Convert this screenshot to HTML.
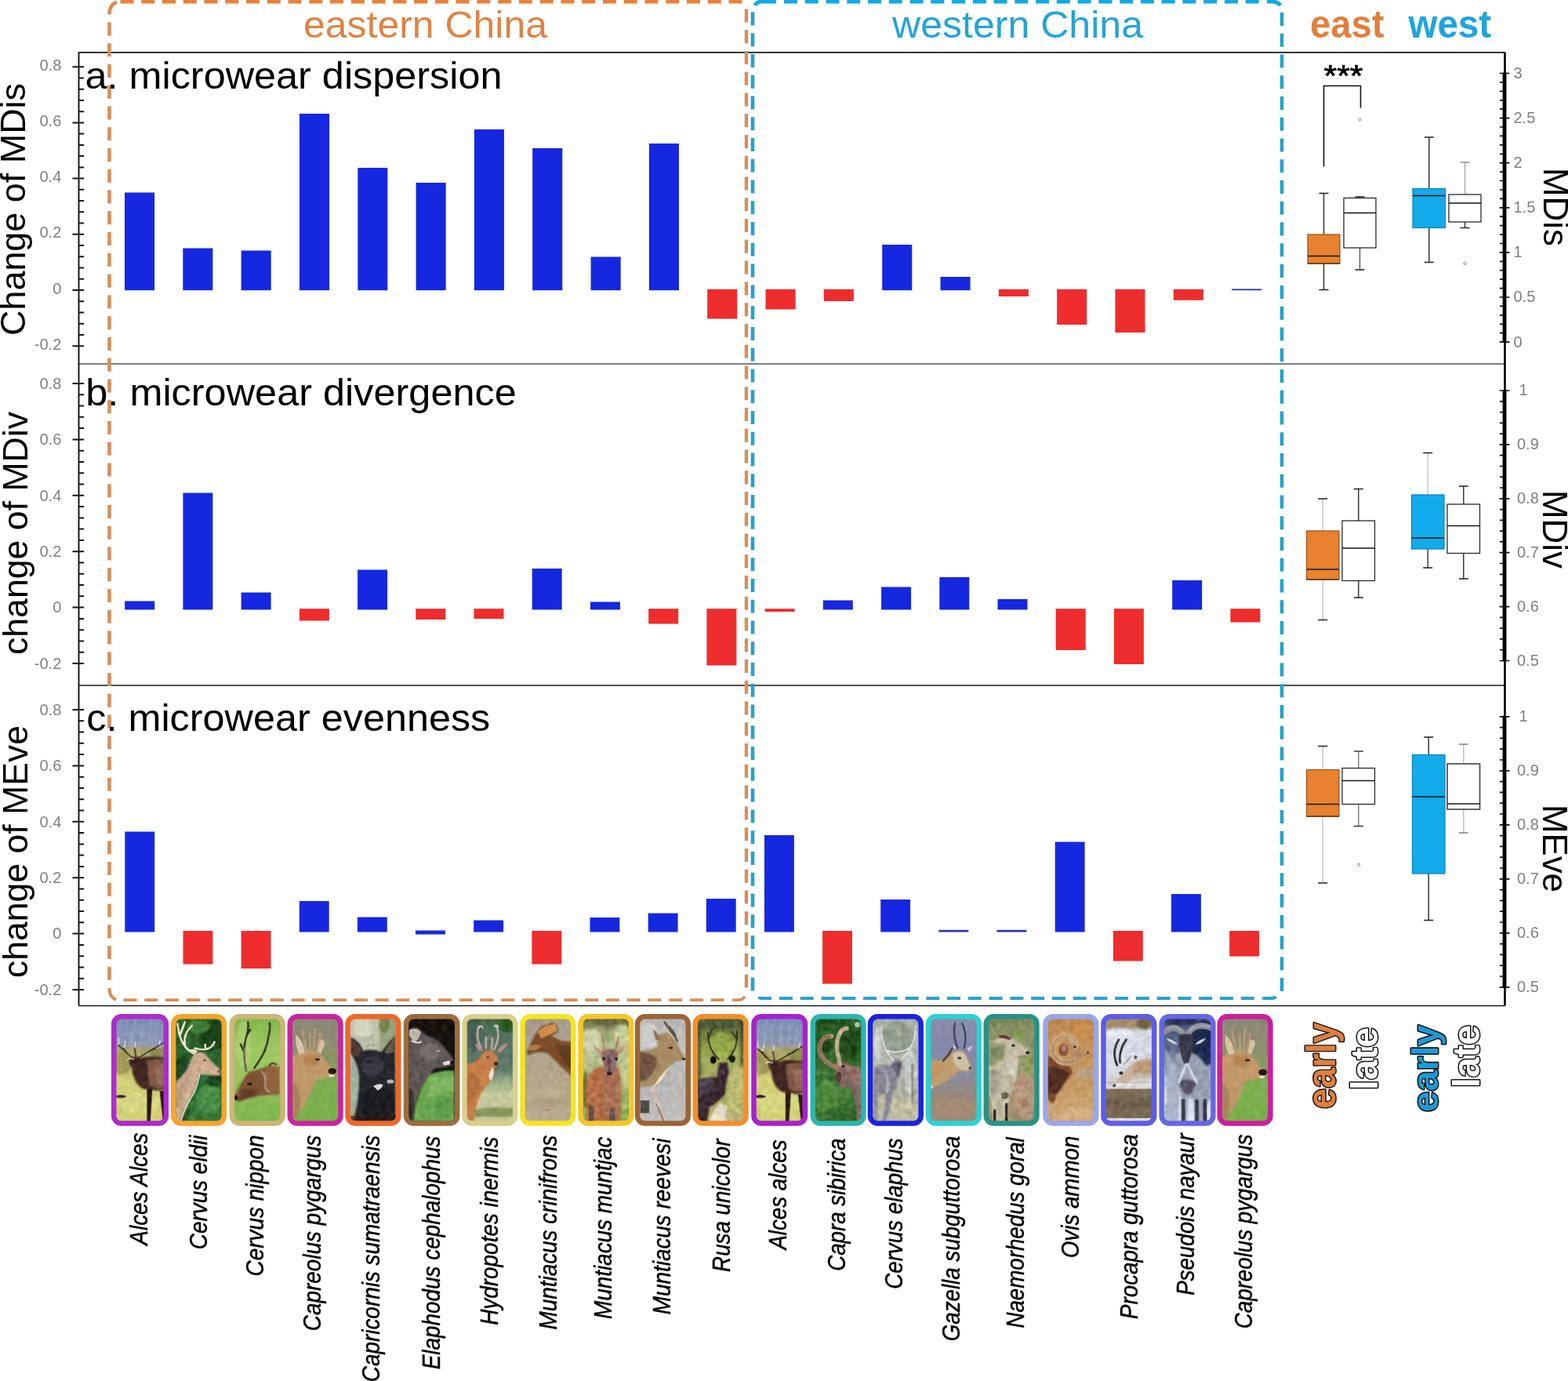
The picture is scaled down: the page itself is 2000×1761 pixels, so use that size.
<!DOCTYPE html>
<html lang="en"><head><meta charset="utf-8"><title>Microwear change in eastern and western China</title>
<style>html,body{margin:0;padding:0;background:#fff}svg{display:block}</style></head>
<body>
<svg width="2000" height="1761" viewBox="0 0 2000 1761" font-family="'Liberation Sans', sans-serif">
<rect width="2000" height="1761" fill="#fff"/>
<rect x="159.0" y="245.5" width="38.1" height="124.7" fill="#1628DF"/>
<rect x="233.3" y="316.5" width="38.1" height="53.7" fill="#1628DF"/>
<rect x="307.6" y="319.5" width="38.1" height="50.7" fill="#1628DF"/>
<rect x="382.0" y="145.0" width="38.1" height="225.2" fill="#1628DF"/>
<rect x="456.3" y="214.0" width="38.1" height="156.2" fill="#1628DF"/>
<rect x="530.6" y="233.0" width="38.1" height="137.2" fill="#1628DF"/>
<rect x="604.9" y="165.0" width="38.1" height="205.2" fill="#1628DF"/>
<rect x="679.2" y="189.0" width="38.1" height="181.2" fill="#1628DF"/>
<rect x="753.6" y="327.5" width="38.1" height="42.7" fill="#1628DF"/>
<rect x="827.9" y="183.0" width="38.1" height="187.2" fill="#1628DF"/>
<rect x="902.2" y="368.8" width="38.1" height="37.7" fill="#EE2D2E"/>
<rect x="976.5" y="368.8" width="38.1" height="25.7" fill="#EE2D2E"/>
<rect x="1050.8" y="368.8" width="38.1" height="15.2" fill="#EE2D2E"/>
<rect x="1125.2" y="312.0" width="38.1" height="58.2" fill="#1628DF"/>
<rect x="1199.5" y="353.0" width="38.1" height="17.2" fill="#1628DF"/>
<rect x="1273.8" y="368.8" width="38.1" height="9.2" fill="#EE2D2E"/>
<rect x="1348.1" y="368.8" width="38.1" height="45.2" fill="#EE2D2E"/>
<rect x="1422.4" y="368.8" width="38.1" height="55.2" fill="#EE2D2E"/>
<rect x="1496.8" y="368.8" width="38.1" height="14.0" fill="#EE2D2E"/>
<rect x="1571.1" y="368.4" width="38.1" height="1.8" fill="#2438B4"/>
<rect x="159.2" y="766.5" width="38.0" height="11.0" fill="#1628DF"/>
<rect x="233.4" y="628.5" width="38.0" height="149.0" fill="#1628DF"/>
<rect x="307.6" y="755.5" width="38.0" height="22.0" fill="#1628DF"/>
<rect x="381.9" y="776.2" width="38.0" height="15.3" fill="#EE2D2E"/>
<rect x="456.1" y="726.5" width="38.0" height="51.0" fill="#1628DF"/>
<rect x="530.3" y="776.2" width="38.0" height="13.8" fill="#EE2D2E"/>
<rect x="604.5" y="776.2" width="38.0" height="12.8" fill="#EE2D2E"/>
<rect x="678.7" y="725.0" width="38.0" height="52.5" fill="#1628DF"/>
<rect x="753.0" y="767.5" width="38.0" height="10.0" fill="#1628DF"/>
<rect x="827.2" y="776.2" width="38.0" height="19.3" fill="#EE2D2E"/>
<rect x="901.4" y="776.2" width="38.0" height="72.3" fill="#EE2D2E"/>
<rect x="975.6" y="776.2" width="38.0" height="3.8" fill="#EE2D2E"/>
<rect x="1049.8" y="765.5" width="38.0" height="12.0" fill="#1628DF"/>
<rect x="1124.1" y="748.5" width="38.0" height="29.0" fill="#1628DF"/>
<rect x="1198.3" y="736.0" width="38.0" height="41.5" fill="#1628DF"/>
<rect x="1272.5" y="764.0" width="38.0" height="13.5" fill="#1628DF"/>
<rect x="1346.7" y="776.2" width="38.0" height="52.8" fill="#EE2D2E"/>
<rect x="1420.9" y="776.2" width="38.0" height="70.8" fill="#EE2D2E"/>
<rect x="1495.2" y="740.0" width="38.0" height="37.5" fill="#1628DF"/>
<rect x="1569.4" y="776.2" width="38.0" height="17.3" fill="#EE2D2E"/>
<rect x="159.3" y="1060.5" width="37.9" height="128.0" fill="#1628DF"/>
<rect x="233.5" y="1187.0" width="37.9" height="42.5" fill="#EE2D2E"/>
<rect x="307.6" y="1187.0" width="37.9" height="48.0" fill="#EE2D2E"/>
<rect x="381.8" y="1149.0" width="37.9" height="39.5" fill="#1628DF"/>
<rect x="455.9" y="1169.5" width="37.9" height="19.0" fill="#1628DF"/>
<rect x="530.0" y="1186.5" width="37.9" height="5.0" fill="#1628DF"/>
<rect x="604.2" y="1173.5" width="37.9" height="15.0" fill="#1628DF"/>
<rect x="678.4" y="1187.0" width="37.9" height="42.5" fill="#EE2D2E"/>
<rect x="752.5" y="1170.0" width="37.9" height="18.5" fill="#1628DF"/>
<rect x="826.7" y="1164.5" width="37.9" height="24.0" fill="#1628DF"/>
<rect x="900.8" y="1146.0" width="37.9" height="42.5" fill="#1628DF"/>
<rect x="975.0" y="1065.0" width="37.9" height="123.5" fill="#1628DF"/>
<rect x="1049.1" y="1187.0" width="37.9" height="67.5" fill="#EE2D2E"/>
<rect x="1123.2" y="1147.0" width="37.9" height="41.5" fill="#1628DF"/>
<rect x="1197.4" y="1185.8" width="37.9" height="2.7" fill="#2438B4"/>
<rect x="1271.5" y="1185.8" width="37.9" height="2.7" fill="#2438B4"/>
<rect x="1345.7" y="1073.5" width="37.9" height="115.0" fill="#1628DF"/>
<rect x="1419.9" y="1187.0" width="37.9" height="38.5" fill="#EE2D2E"/>
<rect x="1494.0" y="1140.0" width="37.9" height="48.5" fill="#1628DF"/>
<rect x="1568.2" y="1187.0" width="37.9" height="32.5" fill="#EE2D2E"/>
<path d="M100.5 66.8H1919.5M100.5 874H1919.5M100.5 1282.5H1919.5" stroke="#1a1a1a" stroke-width="1.7" fill="none"/>
<path d="M100.5 464H1919.5" stroke="#555" stroke-width="1.3" fill="none"/>
<path d="M100.5 66.5V1282.5" stroke="#111" stroke-width="1.9" fill="none"/>
<path d="M1919.5 66.5V1282.5" stroke="#000" stroke-width="2.6" fill="none"/>
<path d="M92.5 85.2H107 M101 99.4H107 M101 113.7H107 M101 127.9H107 M101 142.2H107 M92.5 156.4H107 M101 170.6H107 M101 184.9H107 M101 199.1H107 M101 213.4H107 M92.5 227.6H107 M101 241.8H107 M101 256.1H107 M101 270.3H107 M101 284.6H107 M92.5 298.8H107 M101 313.0H107 M101 327.3H107 M101 341.5H107 M101 355.8H107 M92.5 370.0H107 M101 384.2H107 M101 398.5H107 M101 412.7H107 M101 427.0H107 M92.5 441.2H107" stroke="#151515" stroke-width="2" fill="none"/>
<text x="78.3" y="89.7" font-size="20" fill="#7f7f7f" text-anchor="end" >0.8</text>
<text x="78.3" y="160.9" font-size="20" fill="#7f7f7f" text-anchor="end" >0.6</text>
<text x="78.3" y="232.1" font-size="20" fill="#7f7f7f" text-anchor="end" >0.4</text>
<text x="78.3" y="303.3" font-size="20" fill="#7f7f7f" text-anchor="end" >0.2</text>
<text x="78.3" y="374.5" font-size="20" fill="#7f7f7f" text-anchor="end" >0</text>
<text x="78.3" y="445.7" font-size="20" fill="#7f7f7f" text-anchor="end" >-0.2</text>
<path d="M92.5 489.0H107 M101 503.3H107 M101 517.6H107 M101 531.8H107 M101 546.1H107 M92.5 560.4H107 M101 574.7H107 M101 589.0H107 M101 603.2H107 M101 617.5H107 M92.5 631.8H107 M101 646.1H107 M101 660.4H107 M101 674.6H107 M101 688.9H107 M92.5 703.2H107 M101 717.5H107 M101 731.8H107 M101 746.0H107 M101 760.3H107 M92.5 774.6H107 M101 788.9H107 M101 803.2H107 M101 817.4H107 M101 831.7H107 M92.5 846.0H107" stroke="#151515" stroke-width="2" fill="none"/>
<text x="78.3" y="495.8" font-size="20" fill="#7f7f7f" text-anchor="end" >0.8</text>
<text x="78.3" y="567.2" font-size="20" fill="#7f7f7f" text-anchor="end" >0.6</text>
<text x="78.3" y="638.6" font-size="20" fill="#7f7f7f" text-anchor="end" >0.4</text>
<text x="78.3" y="710.0" font-size="20" fill="#7f7f7f" text-anchor="end" >0.2</text>
<text x="78.3" y="781.4" font-size="20" fill="#7f7f7f" text-anchor="end" >0</text>
<text x="78.3" y="852.8" font-size="20" fill="#7f7f7f" text-anchor="end" >-0.2</text>
<path d="M92.5 905.0H107 M101 919.3H107 M101 933.6H107 M101 947.8H107 M101 962.1H107 M92.5 976.4H107 M101 990.7H107 M101 1005.0H107 M101 1019.2H107 M101 1033.5H107 M92.5 1047.8H107 M101 1062.1H107 M101 1076.4H107 M101 1090.6H107 M101 1104.9H107 M92.5 1119.2H107 M101 1133.5H107 M101 1147.8H107 M101 1162.0H107 M101 1176.3H107 M92.5 1190.6H107 M101 1204.9H107 M101 1219.2H107 M101 1233.4H107 M101 1247.7H107 M92.5 1262.0H107" stroke="#151515" stroke-width="2" fill="none"/>
<text x="78.3" y="911.8" font-size="20" fill="#7f7f7f" text-anchor="end" >0.8</text>
<text x="78.3" y="983.2" font-size="20" fill="#7f7f7f" text-anchor="end" >0.6</text>
<text x="78.3" y="1054.6" font-size="20" fill="#7f7f7f" text-anchor="end" >0.4</text>
<text x="78.3" y="1126.0" font-size="20" fill="#7f7f7f" text-anchor="end" >0.2</text>
<text x="78.3" y="1197.4" font-size="20" fill="#7f7f7f" text-anchor="end" >0</text>
<text x="78.3" y="1268.8" font-size="20" fill="#7f7f7f" text-anchor="end" >-0.2</text>
<path d="M1912.6 93.5H1925.5 M1913 104.9H1918 M1913 116.3H1918 M1913 127.8H1918 M1913 139.2H1918 M1912.6 150.6H1925.5 M1913 162.0H1918 M1913 173.4H1918 M1913 184.9H1918 M1913 196.3H1918 M1912.6 207.7H1925.5 M1913 219.1H1918 M1913 230.5H1918 M1913 242.0H1918 M1913 253.4H1918 M1912.6 264.8H1925.5 M1913 276.2H1918 M1913 287.6H1918 M1913 299.1H1918 M1913 310.5H1918 M1912.6 321.9H1925.5 M1913 333.3H1918 M1913 344.7H1918 M1913 356.2H1918 M1913 367.6H1918 M1912.6 379.0H1925.5 M1913 390.4H1918 M1913 401.8H1918 M1913 413.3H1918 M1913 424.7H1918 M1912.6 436.1H1925.5" stroke="#111" stroke-width="1.7" fill="none"/>
<path d="M1919 92.5V437.1" stroke="#000" stroke-width="4.8" fill="none"/>
<text x="1930.5" y="99.9" font-size="20" fill="#7f7f7f" >3</text>
<text x="1930.5" y="157.0" font-size="20" fill="#7f7f7f" >2.5</text>
<text x="1930.5" y="214.1" font-size="20" fill="#7f7f7f" >2</text>
<text x="1930.5" y="271.2" font-size="20" fill="#7f7f7f" >1.5</text>
<text x="1930.5" y="328.3" font-size="20" fill="#7f7f7f" >1</text>
<text x="1930.5" y="385.4" font-size="20" fill="#7f7f7f" >0.5</text>
<text x="1930.5" y="442.5" font-size="20" fill="#7f7f7f" >0</text>
<path d="M1912.6 498.0H1925.5 M1913 511.8H1918 M1913 525.6H1918 M1913 539.3H1918 M1913 553.1H1918 M1912.6 566.9H1925.5 M1913 580.7H1918 M1913 594.5H1918 M1913 608.2H1918 M1913 622.0H1918 M1912.6 635.8H1925.5 M1913 649.6H1918 M1913 663.4H1918 M1913 677.1H1918 M1913 690.9H1918 M1912.6 704.7H1925.5 M1913 718.5H1918 M1913 732.3H1918 M1913 746.0H1918 M1913 759.8H1918 M1912.6 773.6H1925.5 M1913 787.4H1918 M1913 801.2H1918 M1913 814.9H1918 M1913 828.7H1918 M1912.6 842.5H1925.5" stroke="#111" stroke-width="1.7" fill="none"/>
<path d="M1919 497.0V843.5" stroke="#000" stroke-width="4.8" fill="none"/>
<text x="1937.5" y="504.4" font-size="20" fill="#7f7f7f" >1</text>
<text x="1935" y="573.3" font-size="20" fill="#7f7f7f" >0.9</text>
<text x="1935" y="642.2" font-size="20" fill="#7f7f7f" >0.8</text>
<text x="1935" y="711.1" font-size="20" fill="#7f7f7f" >0.7</text>
<text x="1935" y="780.0" font-size="20" fill="#7f7f7f" >0.6</text>
<text x="1935" y="848.9" font-size="20" fill="#7f7f7f" >0.5</text>
<path d="M1912.6 913.8H1925.5 M1913 927.6H1918 M1913 941.4H1918 M1913 955.2H1918 M1913 969.0H1918 M1912.6 982.8H1925.5 M1913 996.6H1918 M1913 1010.4H1918 M1913 1024.2H1918 M1913 1038.0H1918 M1912.6 1051.8H1925.5 M1913 1065.6H1918 M1913 1079.4H1918 M1913 1093.2H1918 M1913 1107.0H1918 M1912.6 1120.8H1925.5 M1913 1134.6H1918 M1913 1148.4H1918 M1913 1162.2H1918 M1913 1176.0H1918 M1912.6 1189.8H1925.5 M1913 1203.6H1918 M1913 1217.4H1918 M1913 1231.2H1918 M1913 1245.0H1918 M1912.6 1258.8H1925.5" stroke="#111" stroke-width="1.7" fill="none"/>
<path d="M1919 912.8V1259.8" stroke="#000" stroke-width="4.8" fill="none"/>
<text x="1937.5" y="920.2" font-size="20" fill="#7f7f7f" >1</text>
<text x="1935" y="989.2" font-size="20" fill="#7f7f7f" >0.9</text>
<text x="1935" y="1058.2" font-size="20" fill="#7f7f7f" >0.8</text>
<text x="1935" y="1127.2" font-size="20" fill="#7f7f7f" >0.7</text>
<text x="1935" y="1196.2" font-size="20" fill="#7f7f7f" >0.6</text>
<text x="1935" y="1265.2" font-size="20" fill="#7f7f7f" >0.5</text>
<path d="M139.5 18.5 C139.5 10 142 5 149 2.6" stroke="#D68F59" stroke-width="4.6" fill="none"/>
<path d="M153.5 2H948" stroke="#E7823C" stroke-width="5" fill="none" stroke-dasharray="17 9.76" />
<path d="M139.5 28.5V1252.5" stroke="#D68F59" stroke-width="4.6" fill="none" stroke-dasharray="17 9.76" />
<path d="M139.5 1260 C139.5 1268 142 1272 148 1275" stroke="#D68F59" stroke-width="4.2" fill="none"/>
<path d="M157.5 1275.2H934" stroke="#D68F59" stroke-width="3.8" fill="none" stroke-dasharray="17 9.76" />
<path d="M934.5 1275.2H941 C946 1275.2 948 1274 950 1270.5" stroke="#D68F59" stroke-width="3.8" fill="none"/>
<path d="M952 11.5V1261" stroke="#D68F59" stroke-width="4.4" fill="none" stroke-dasharray="17 9.76" />
<path d="M962.5 6.5 C965 3.5 967 2 972 2H990" stroke="#14A9E2" stroke-width="5" fill="none"/>
<path d="M1000 2H1606.5" stroke="#14A9E2" stroke-width="5" fill="none" stroke-dasharray="17 9.76" />
<path d="M1616 2H1622 C1628 2 1631 3.5 1633 7" stroke="#14A9E2" stroke-width="5" fill="none"/>
<path d="M960 15.5V1265" stroke="#27A2CB" stroke-width="4.6" fill="none" stroke-dasharray="17 9.76" />
<path d="M1635 16V1265" stroke="#27A2CB" stroke-width="4.6" fill="none" stroke-dasharray="17 9.76" />
<path d="M967.5 1271.5 C969 1273 970 1273 973 1273H984" stroke="#27A2CB" stroke-width="4" fill="none"/>
<path d="M994 1273H1610" stroke="#27A2CB" stroke-width="4" fill="none" stroke-dasharray="17 9.76" />
<path d="M1610.5 1273H1620 C1624 1273 1626 1272.5 1627.5 1271" stroke="#27A2CB" stroke-width="4" fill="none"/>
<text x="387" y="48.4" font-size="48" fill="#DC8446" textLength="311" lengthAdjust="spacingAndGlyphs" >eastern China</text>
<text x="1138" y="48.4" font-size="48" fill="#24A4D8" textLength="320" lengthAdjust="spacingAndGlyphs" >western China</text>
<text x="1671" y="47.6" font-size="50" fill="#E0803E" font-weight="bold" textLength="94.5" lengthAdjust="spacingAndGlyphs" >east</text>
<text x="1796.5" y="47.6" font-size="50" fill="#1FA4DC" font-weight="bold" textLength="105.5" lengthAdjust="spacingAndGlyphs" >west</text>
<text x="108.5" y="113.4" font-size="48" fill="#000" textLength="532" lengthAdjust="spacingAndGlyphs" >a. microwear dispersion</text>
<text x="109.3" y="517.3" font-size="48" fill="#000" textLength="549.5" lengthAdjust="spacingAndGlyphs" >b. microwear divergence</text>
<text x="110.3" y="931.5" font-size="48" fill="#000" textLength="515" lengthAdjust="spacingAndGlyphs" >c. microwear evenness</text>
<text x="32" y="428" font-size="44" fill="#000" textLength="322" lengthAdjust="spacingAndGlyphs" transform="rotate(-90 32 428)" >Change of MDis</text>
<text x="34.5" y="835" font-size="44" fill="#000" textLength="310" lengthAdjust="spacingAndGlyphs" transform="rotate(-90 34.5 835)" >change of MDiv</text>
<text x="34.5" y="1247" font-size="44" fill="#000" textLength="322" lengthAdjust="spacingAndGlyphs" transform="rotate(-90 34.5 1247)" >change of MEve</text>
<text x="1969" y="214" font-size="44" fill="#000" textLength="100" lengthAdjust="spacingAndGlyphs" transform="rotate(90 1969 214)" >MDis</text>
<text x="1968" y="625" font-size="44" fill="#000" textLength="100" lengthAdjust="spacingAndGlyphs" transform="rotate(90 1968 625)" >MDiv</text>
<text x="1968" y="1026" font-size="44" fill="#000" textLength="112" lengthAdjust="spacingAndGlyphs" transform="rotate(90 1968 1026)" >MEve</text>
<path d="M1688.5 299.0V246.5" stroke="#2a2a2a" stroke-width="1.4" fill="none"/>
<path d="M1688.5 336.0V369.5" stroke="#2a2a2a" stroke-width="1.4" fill="none"/>
<path d="M1682.5 246.5h12" stroke="#2a2a2a" stroke-width="1.5999999999999999" fill="none"/>
<path d="M1682.5 369.5h12" stroke="#2a2a2a" stroke-width="1.5999999999999999" fill="none"/>
<rect x="1668.0" y="299.0" width="41.0" height="37.0" fill="#E8822F" stroke="#9A5A28" stroke-width="1.3"/>
<path d="M1668.0 326.5H1709.0" stroke="#151515" stroke-width="1.4"/>
<path d="M1668 336H1709" stroke="#5a3418" stroke-width="1.6"/>
<path d="M1734.5 252.5V251.0" stroke="#2a2a2a" stroke-width="1.4" fill="none"/>
<path d="M1734.5 316.0V344.0" stroke="#555" stroke-width="1.4" fill="none"/>
<path d="M1728.5 251.0h12" stroke="#2a2a2a" stroke-width="1.5999999999999999" fill="none"/>
<path d="M1728.5 344.0h12" stroke="#2a2a2a" stroke-width="1.5999999999999999" fill="none"/>
<rect x="1714.0" y="252.5" width="41.0" height="63.5" fill="#fff" stroke="#2a2a2a" stroke-width="1.3"/>
<path d="M1714.0 271.5H1755.0" stroke="#151515" stroke-width="1.4"/>
<circle cx="1734.5" cy="152.5" r="1.6" fill="none" stroke="#666" stroke-width="0.8"/>
<path d="M1688.5 212.5V109.5H1735.5V137.5" stroke="#111" stroke-width="1.6" fill="none"/>
<text x="1688.5" y="109.5" font-size="38" fill="#000" textLength="50" lengthAdjust="spacingAndGlyphs" stroke="#000" stroke-width="0.7">***</text>
<path d="M1822.8 240.5V175.0" stroke="#2a2a2a" stroke-width="1.4" fill="none"/>
<path d="M1822.8 290.5V334.5" stroke="#2a2a2a" stroke-width="1.4" fill="none"/>
<path d="M1816.8 175.0h12" stroke="#2a2a2a" stroke-width="1.5999999999999999" fill="none"/>
<path d="M1816.8 334.5h12" stroke="#2a2a2a" stroke-width="1.5999999999999999" fill="none"/>
<rect x="1802.0" y="240.5" width="41.5" height="50.0" fill="#12ABEA" stroke="#1486BC" stroke-width="1.3"/>
<path d="M1802.0 249.5H1843.5" stroke="#151515" stroke-width="1.4"/>
<path d="M1868.5 248.0V207.0" stroke="#aaa" stroke-width="1.4" fill="none"/>
<path d="M1868.5 283.0V290.5" stroke="#333" stroke-width="1.4" fill="none"/>
<path d="M1862.5 207.0h12" stroke="#999" stroke-width="1.5999999999999999" fill="none"/>
<path d="M1862.5 290.5h12" stroke="#333" stroke-width="1.5999999999999999" fill="none"/>
<rect x="1848.0" y="248.0" width="41.0" height="35.0" fill="#fff" stroke="#2a2a2a" stroke-width="1.3"/>
<path d="M1848.0 259.0H1889.0" stroke="#151515" stroke-width="1.4"/>
<circle cx="1868.5" cy="336" r="1.6" fill="none" stroke="#666" stroke-width="0.8"/>
<path d="M1687.2 677.0V636.0" stroke="#c4c4c4" stroke-width="1.4" fill="none"/>
<path d="M1687.2 739.0V790.5" stroke="#c4c4c4" stroke-width="1.4" fill="none"/>
<path d="M1681.2 636.0h12" stroke="#2a2a2a" stroke-width="1.5999999999999999" fill="none"/>
<path d="M1681.2 790.5h12" stroke="#2a2a2a" stroke-width="1.5999999999999999" fill="none"/>
<rect x="1666.5" y="677.0" width="41.5" height="62.0" fill="#E8822F" stroke="#9A5A28" stroke-width="1.3"/>
<path d="M1666.5 726.0H1708.0" stroke="#151515" stroke-width="1.4"/>
<path d="M1666.5 739H1708" stroke="#5a3418" stroke-width="1.6"/>
<path d="M1732.8 664.0V623.5" stroke="#2a2a2a" stroke-width="1.4" fill="none"/>
<path d="M1732.8 740.5V762.0" stroke="#2a2a2a" stroke-width="1.4" fill="none"/>
<path d="M1726.8 623.5h12" stroke="#2a2a2a" stroke-width="1.5999999999999999" fill="none"/>
<path d="M1726.8 762.0h12" stroke="#2a2a2a" stroke-width="1.5999999999999999" fill="none"/>
<rect x="1712.0" y="664.0" width="41.5" height="76.5" fill="#fff" stroke="#2a2a2a" stroke-width="1.3"/>
<path d="M1712.0 699.0H1753.5" stroke="#151515" stroke-width="1.4"/>
<path d="M1821.2 631.0V577.5" stroke="#c4c4c4" stroke-width="1.4" fill="none"/>
<path d="M1821.2 700.0V724.0" stroke="#333" stroke-width="1.4" fill="none"/>
<path d="M1815.2 577.5h12" stroke="#2a2a2a" stroke-width="1.5999999999999999" fill="none"/>
<path d="M1815.2 724.0h12" stroke="#2a2a2a" stroke-width="1.5999999999999999" fill="none"/>
<rect x="1800.5" y="631.0" width="41.5" height="69.0" fill="#12ABEA" stroke="#1486BC" stroke-width="1.3"/>
<path d="M1800.5 686.0H1842.0" stroke="#151515" stroke-width="1.4"/>
<path d="M1866.8 643.0V620.0" stroke="#2a2a2a" stroke-width="1.4" fill="none"/>
<path d="M1866.8 705.5V738.0" stroke="#2a2a2a" stroke-width="1.4" fill="none"/>
<path d="M1860.8 620.0h12" stroke="#2a2a2a" stroke-width="1.5999999999999999" fill="none"/>
<path d="M1860.8 738.0h12" stroke="#2a2a2a" stroke-width="1.5999999999999999" fill="none"/>
<rect x="1846.0" y="643.0" width="41.5" height="62.5" fill="#fff" stroke="#2a2a2a" stroke-width="1.3"/>
<path d="M1846.0 670.5H1887.5" stroke="#151515" stroke-width="1.4"/>
<path d="M1687.2 981.5V951.5" stroke="#c4c4c4" stroke-width="1.4" fill="none"/>
<path d="M1687.2 1041.0V1126.0" stroke="#c4c4c4" stroke-width="1.4" fill="none"/>
<path d="M1681.2 951.5h12" stroke="#2a2a2a" stroke-width="1.5999999999999999" fill="none"/>
<path d="M1681.2 1126.0h12" stroke="#2a2a2a" stroke-width="1.5999999999999999" fill="none"/>
<rect x="1666.5" y="981.5" width="41.5" height="59.5" fill="#E8822F" stroke="#9A5A28" stroke-width="1.3"/>
<path d="M1666.5 1025.5H1708.0" stroke="#151515" stroke-width="1.4"/>
<path d="M1666.5 1041H1708" stroke="#5a3418" stroke-width="1.6"/>
<path d="M1732.8 979.5V958.0" stroke="#777" stroke-width="1.4" fill="none"/>
<path d="M1732.8 1025.5V1053.5" stroke="#777" stroke-width="1.4" fill="none"/>
<path d="M1726.8 958.0h12" stroke="#444" stroke-width="1.5999999999999999" fill="none"/>
<path d="M1726.8 1053.5h12" stroke="#444" stroke-width="1.5999999999999999" fill="none"/>
<rect x="1712.0" y="979.5" width="41.5" height="46.0" fill="#fff" stroke="#2a2a2a" stroke-width="1.3"/>
<path d="M1712.0 995.5H1753.5" stroke="#151515" stroke-width="1.4"/>
<circle cx="1733" cy="1102.5" r="1.6" fill="none" stroke="#666" stroke-width="0.8"/>
<path d="M1822.2 962.5V940.0" stroke="#2a2a2a" stroke-width="1.4" fill="none"/>
<path d="M1822.2 1114.0V1173.5" stroke="#2a2a2a" stroke-width="1.4" fill="none"/>
<path d="M1816.2 940.0h12" stroke="#2a2a2a" stroke-width="1.5999999999999999" fill="none"/>
<path d="M1816.2 1173.5h12" stroke="#2a2a2a" stroke-width="1.5999999999999999" fill="none"/>
<rect x="1801.5" y="962.5" width="41.5" height="151.5" fill="#12ABEA" stroke="#1486BC" stroke-width="1.3"/>
<path d="M1801.5 1016.0H1843.0" stroke="#151515" stroke-width="1.4"/>
<path d="M1866.8 974.0V949.0" stroke="#bbb" stroke-width="1.4" fill="none"/>
<path d="M1866.8 1032.0V1062.0" stroke="#bbb" stroke-width="1.4" fill="none"/>
<path d="M1860.8 949.0h12" stroke="#888" stroke-width="1.5999999999999999" fill="none"/>
<path d="M1860.8 1062.0h12" stroke="#888" stroke-width="1.5999999999999999" fill="none"/>
<rect x="1846.0" y="974.0" width="41.5" height="58.0" fill="#fff" stroke="#555" stroke-width="1.8"/>
<path d="M1846.0 1025.0H1887.5" stroke="#151515" stroke-width="1.4"/>
<defs><linearGradient id="g_elk" x1="0" y1="0" x2="0" y2="1"><stop offset="0" stop-color="#7C8DB8"/><stop offset="0.25" stop-color="#8E98B2"/><stop offset="0.31" stop-color="#A8A470"/><stop offset="0.42" stop-color="#B4AC62"/><stop offset="0.6" stop-color="#D2D07A"/><stop offset="1" stop-color="#CFCE74"/></linearGradient><linearGradient id="g_eld" x1="0" y1="0" x2="0" y2="1"><stop offset="0" stop-color="#2A6228"/><stop offset="0.5" stop-color="#2C6430"/><stop offset="1" stop-color="#3A7C3A"/></linearGradient><linearGradient id="g_nip" x1="0" y1="0" x2="0" y2="1"><stop offset="0" stop-color="#7FB44A"/><stop offset="0.3" stop-color="#A0C864"/><stop offset="0.55" stop-color="#9AC45E"/><stop offset="0.8" stop-color="#86B952"/><stop offset="1" stop-color="#82B650"/></linearGradient><linearGradient id="g_cap" x1="0" y1="0" x2="0" y2="1"><stop offset="0" stop-color="#8A8878"/><stop offset="0.2" stop-color="#908A74"/><stop offset="0.42" stop-color="#879664"/><stop offset="0.62" stop-color="#7FAE50"/><stop offset="1" stop-color="#7AB04A"/></linearGradient><linearGradient id="g_ser" x1="0" y1="0" x2="0" y2="1"><stop offset="0" stop-color="#C4C6AE"/><stop offset="0.4" stop-color="#BAC0A8"/><stop offset="1" stop-color="#9CAA92"/></linearGradient><linearGradient id="g_hyd" x1="0" y1="0" x2="0" y2="1"><stop offset="0" stop-color="#3C6832"/><stop offset="0.1" stop-color="#50705A"/><stop offset="0.5" stop-color="#607A6A"/><stop offset="0.6" stop-color="#98AC84"/><stop offset="0.72" stop-color="#C4C89A"/><stop offset="1" stop-color="#C6C894"/></linearGradient><linearGradient id="g_cri" x1="0" y1="0" x2="0" y2="1"><stop offset="0" stop-color="#A49A8C"/><stop offset="0.35" stop-color="#B2A48E"/><stop offset="0.7" stop-color="#B6A68A"/><stop offset="1" stop-color="#BAAC92"/></linearGradient><linearGradient id="g_mun" x1="0" y1="0" x2="0" y2="1"><stop offset="0" stop-color="#4A4A2C"/><stop offset="0.1" stop-color="#8E9666"/><stop offset="0.3" stop-color="#BCC490"/><stop offset="0.6" stop-color="#AAB47A"/><stop offset="1" stop-color="#88B24C"/></linearGradient><linearGradient id="g_ree" x1="0" y1="0" x2="0" y2="1"><stop offset="0" stop-color="#B2B2B0"/><stop offset="0.3" stop-color="#C4C4C2"/><stop offset="0.6" stop-color="#B8B8B6"/><stop offset="1" stop-color="#C2BEBC"/></linearGradient><linearGradient id="g_rus" x1="0" y1="0" x2="0" y2="1"><stop offset="0" stop-color="#4E5C36"/><stop offset="0.15" stop-color="#6A7A42"/><stop offset="0.32" stop-color="#94A84C"/><stop offset="0.5" stop-color="#A4AA62"/><stop offset="0.8" stop-color="#B2B26A"/><stop offset="1" stop-color="#BEB67E"/></linearGradient><linearGradient id="g_ibx" x1="0" y1="0" x2="0" y2="1"><stop offset="0" stop-color="#255522"/><stop offset="0.4" stop-color="#33682B"/><stop offset="0.7" stop-color="#467E38"/><stop offset="1" stop-color="#386E30"/></linearGradient><linearGradient id="g_ela" x1="0" y1="0" x2="0" y2="1"><stop offset="0" stop-color="#A6AEA2"/><stop offset="0.3" stop-color="#B4BAB2"/><stop offset="0.6" stop-color="#AAB0A8"/><stop offset="0.75" stop-color="#B6B69E"/><stop offset="1" stop-color="#BEBAA6"/></linearGradient><linearGradient id="g_gaz" x1="0" y1="0" x2="0" y2="1"><stop offset="0" stop-color="#8C8CA8"/><stop offset="0.3" stop-color="#8488A8"/><stop offset="0.55" stop-color="#8C8C9C"/><stop offset="0.75" stop-color="#988878"/><stop offset="1" stop-color="#A08A78"/></linearGradient><linearGradient id="g_gor" x1="0" y1="0" x2="0" y2="1"><stop offset="0" stop-color="#7E8858"/><stop offset="0.3" stop-color="#949870"/><stop offset="0.55" stop-color="#92986E"/><stop offset="0.75" stop-color="#A89474"/><stop offset="1" stop-color="#A08C70"/></linearGradient><linearGradient id="g_ovi" x1="0" y1="0" x2="0" y2="1"><stop offset="0" stop-color="#BA8850"/><stop offset="0.3" stop-color="#C6945A"/><stop offset="0.6" stop-color="#C29862"/><stop offset="0.85" stop-color="#CAA270"/><stop offset="1" stop-color="#CEAA7E"/></linearGradient><linearGradient id="g_pro" x1="0" y1="0" x2="0" y2="1"><stop offset="0" stop-color="#9A8060"/><stop offset="0.09" stop-color="#A89070"/><stop offset="0.14" stop-color="#D2D6E2"/><stop offset="0.45" stop-color="#DADDE8"/><stop offset="0.6" stop-color="#D4D0CC"/><stop offset="0.68" stop-color="#7E6E58"/><stop offset="1" stop-color="#766850"/></linearGradient><linearGradient id="g_pse" x1="0" y1="0" x2="0" y2="1"><stop offset="0" stop-color="#4A5478"/><stop offset="0.3" stop-color="#5E6A8A"/><stop offset="0.5" stop-color="#9AA4BA"/><stop offset="0.7" stop-color="#D2DAEA"/><stop offset="1" stop-color="#E4E8F4"/></linearGradient><filter id="pf0" x="0" y="0" width="100%" height="100%" color-interpolation-filters="sRGB"><feGaussianBlur stdDeviation="0.55" result="b"/><feTurbulence type="fractalNoise" baseFrequency="0.14" numOctaves="2" seed="3" result="t"/><feColorMatrix in="t" type="matrix" values="0.6 0.4 0 0 0  0.5 0.5 0 0 0  0.4 0.5 0.1 0 0  0 0 0 0 1" result="n"/><feComposite in="b" in2="n" operator="arithmetic" k1="0" k2="1" k3="0.18" k4="-0.090"/></filter><filter id="pf1" x="0" y="0" width="100%" height="100%" color-interpolation-filters="sRGB"><feGaussianBlur stdDeviation="0.55" result="b"/><feTurbulence type="fractalNoise" baseFrequency="0.14" numOctaves="2" seed="4" result="t"/><feColorMatrix in="t" type="matrix" values="0.6 0.4 0 0 0  0.5 0.5 0 0 0  0.4 0.5 0.1 0 0  0 0 0 0 1" result="n"/><feComposite in="b" in2="n" operator="arithmetic" k1="0" k2="1" k3="0.3" k4="-0.150"/></filter><filter id="pf2" x="0" y="0" width="100%" height="100%" color-interpolation-filters="sRGB"><feGaussianBlur stdDeviation="0.55" result="b"/><feTurbulence type="fractalNoise" baseFrequency="0.14" numOctaves="2" seed="5" result="t"/><feColorMatrix in="t" type="matrix" values="0.6 0.4 0 0 0  0.5 0.5 0 0 0  0.4 0.5 0.1 0 0  0 0 0 0 1" result="n"/><feComposite in="b" in2="n" operator="arithmetic" k1="0" k2="1" k3="0.096" k4="-0.048"/></filter><filter id="pf3" x="0" y="0" width="100%" height="100%" color-interpolation-filters="sRGB"><feGaussianBlur stdDeviation="0.55" result="b"/><feTurbulence type="fractalNoise" baseFrequency="0.14" numOctaves="2" seed="6" result="t"/><feColorMatrix in="t" type="matrix" values="0.6 0.4 0 0 0  0.5 0.5 0 0 0  0.4 0.5 0.1 0 0  0 0 0 0 1" result="n"/><feComposite in="b" in2="n" operator="arithmetic" k1="0" k2="1" k3="0.12" k4="-0.060"/></filter><filter id="pf4" x="0" y="0" width="100%" height="100%" color-interpolation-filters="sRGB"><feGaussianBlur stdDeviation="0.55" result="b"/><feTurbulence type="fractalNoise" baseFrequency="0.14" numOctaves="2" seed="7" result="t"/><feColorMatrix in="t" type="matrix" values="0.6 0.4 0 0 0  0.5 0.5 0 0 0  0.4 0.5 0.1 0 0  0 0 0 0 1" result="n"/><feComposite in="b" in2="n" operator="arithmetic" k1="0" k2="1" k3="0.216" k4="-0.108"/></filter><filter id="pf5" x="0" y="0" width="100%" height="100%" color-interpolation-filters="sRGB"><feGaussianBlur stdDeviation="0.55" result="b"/><feTurbulence type="fractalNoise" baseFrequency="0.14" numOctaves="2" seed="8" result="t"/><feColorMatrix in="t" type="matrix" values="0.6 0.4 0 0 0  0.5 0.5 0 0 0  0.4 0.5 0.1 0 0  0 0 0 0 1" result="n"/><feComposite in="b" in2="n" operator="arithmetic" k1="0" k2="1" k3="0.216" k4="-0.108"/></filter><filter id="pf6" x="0" y="0" width="100%" height="100%" color-interpolation-filters="sRGB"><feGaussianBlur stdDeviation="0.55" result="b"/><feTurbulence type="fractalNoise" baseFrequency="0.14" numOctaves="2" seed="9" result="t"/><feColorMatrix in="t" type="matrix" values="0.6 0.4 0 0 0  0.5 0.5 0 0 0  0.4 0.5 0.1 0 0  0 0 0 0 1" result="n"/><feComposite in="b" in2="n" operator="arithmetic" k1="0" k2="1" k3="0.192" k4="-0.096"/></filter><filter id="pf7" x="0" y="0" width="100%" height="100%" color-interpolation-filters="sRGB"><feGaussianBlur stdDeviation="0.55" result="b"/><feTurbulence type="fractalNoise" baseFrequency="0.14" numOctaves="2" seed="10" result="t"/><feColorMatrix in="t" type="matrix" values="0.6 0.4 0 0 0  0.5 0.5 0 0 0  0.4 0.5 0.1 0 0  0 0 0 0 1" result="n"/><feComposite in="b" in2="n" operator="arithmetic" k1="0" k2="1" k3="0.132" k4="-0.066"/></filter><filter id="pf8" x="0" y="0" width="100%" height="100%" color-interpolation-filters="sRGB"><feGaussianBlur stdDeviation="0.55" result="b"/><feTurbulence type="fractalNoise" baseFrequency="0.14" numOctaves="2" seed="11" result="t"/><feColorMatrix in="t" type="matrix" values="0.6 0.4 0 0 0  0.5 0.5 0 0 0  0.4 0.5 0.1 0 0  0 0 0 0 1" result="n"/><feComposite in="b" in2="n" operator="arithmetic" k1="0" k2="1" k3="0.33" k4="-0.165"/></filter><filter id="pf9" x="0" y="0" width="100%" height="100%" color-interpolation-filters="sRGB"><feGaussianBlur stdDeviation="0.55" result="b"/><feTurbulence type="fractalNoise" baseFrequency="0.14" numOctaves="2" seed="12" result="t"/><feColorMatrix in="t" type="matrix" values="0.6 0.4 0 0 0  0.5 0.5 0 0 0  0.4 0.5 0.1 0 0  0 0 0 0 1" result="n"/><feComposite in="b" in2="n" operator="arithmetic" k1="0" k2="1" k3="0.216" k4="-0.108"/></filter><filter id="pf10" x="0" y="0" width="100%" height="100%" color-interpolation-filters="sRGB"><feGaussianBlur stdDeviation="0.55" result="b"/><feTurbulence type="fractalNoise" baseFrequency="0.14" numOctaves="2" seed="13" result="t"/><feColorMatrix in="t" type="matrix" values="0.6 0.4 0 0 0  0.5 0.5 0 0 0  0.4 0.5 0.1 0 0  0 0 0 0 1" result="n"/><feComposite in="b" in2="n" operator="arithmetic" k1="0" k2="1" k3="0.33" k4="-0.165"/></filter><filter id="pf11" x="0" y="0" width="100%" height="100%" color-interpolation-filters="sRGB"><feGaussianBlur stdDeviation="0.55" result="b"/><feTurbulence type="fractalNoise" baseFrequency="0.14" numOctaves="2" seed="14" result="t"/><feColorMatrix in="t" type="matrix" values="0.6 0.4 0 0 0  0.5 0.5 0 0 0  0.4 0.5 0.1 0 0  0 0 0 0 1" result="n"/><feComposite in="b" in2="n" operator="arithmetic" k1="0" k2="1" k3="0.18" k4="-0.090"/></filter><filter id="pf12" x="0" y="0" width="100%" height="100%" color-interpolation-filters="sRGB"><feGaussianBlur stdDeviation="0.55" result="b"/><feTurbulence type="fractalNoise" baseFrequency="0.14" numOctaves="2" seed="15" result="t"/><feColorMatrix in="t" type="matrix" values="0.6 0.4 0 0 0  0.5 0.5 0 0 0  0.4 0.5 0.1 0 0  0 0 0 0 1" result="n"/><feComposite in="b" in2="n" operator="arithmetic" k1="0" k2="1" k3="0.33" k4="-0.165"/></filter><filter id="pf13" x="0" y="0" width="100%" height="100%" color-interpolation-filters="sRGB"><feGaussianBlur stdDeviation="0.55" result="b"/><feTurbulence type="fractalNoise" baseFrequency="0.14" numOctaves="2" seed="16" result="t"/><feColorMatrix in="t" type="matrix" values="0.6 0.4 0 0 0  0.5 0.5 0 0 0  0.4 0.5 0.1 0 0  0 0 0 0 1" result="n"/><feComposite in="b" in2="n" operator="arithmetic" k1="0" k2="1" k3="0.33" k4="-0.165"/></filter><filter id="pf14" x="0" y="0" width="100%" height="100%" color-interpolation-filters="sRGB"><feGaussianBlur stdDeviation="0.55" result="b"/><feTurbulence type="fractalNoise" baseFrequency="0.14" numOctaves="2" seed="17" result="t"/><feColorMatrix in="t" type="matrix" values="0.6 0.4 0 0 0  0.5 0.5 0 0 0  0.4 0.5 0.1 0 0  0 0 0 0 1" result="n"/><feComposite in="b" in2="n" operator="arithmetic" k1="0" k2="1" k3="0.084" k4="-0.042"/></filter><filter id="pf15" x="0" y="0" width="100%" height="100%" color-interpolation-filters="sRGB"><feGaussianBlur stdDeviation="0.55" result="b"/><feTurbulence type="fractalNoise" baseFrequency="0.14" numOctaves="2" seed="18" result="t"/><feColorMatrix in="t" type="matrix" values="0.6 0.4 0 0 0  0.5 0.5 0 0 0  0.4 0.5 0.1 0 0  0 0 0 0 1" result="n"/><feComposite in="b" in2="n" operator="arithmetic" k1="0" k2="1" k3="0.3" k4="-0.150"/></filter><filter id="pf16" x="0" y="0" width="100%" height="100%" color-interpolation-filters="sRGB"><feGaussianBlur stdDeviation="0.55" result="b"/><feTurbulence type="fractalNoise" baseFrequency="0.14" numOctaves="2" seed="19" result="t"/><feColorMatrix in="t" type="matrix" values="0.6 0.4 0 0 0  0.5 0.5 0 0 0  0.4 0.5 0.1 0 0  0 0 0 0 1" result="n"/><feComposite in="b" in2="n" operator="arithmetic" k1="0" k2="1" k3="0.24" k4="-0.120"/></filter><filter id="pf17" x="0" y="0" width="100%" height="100%" color-interpolation-filters="sRGB"><feGaussianBlur stdDeviation="0.55" result="b"/><feTurbulence type="fractalNoise" baseFrequency="0.14" numOctaves="2" seed="20" result="t"/><feColorMatrix in="t" type="matrix" values="0.6 0.4 0 0 0  0.5 0.5 0 0 0  0.4 0.5 0.1 0 0  0 0 0 0 1" result="n"/><feComposite in="b" in2="n" operator="arithmetic" k1="0" k2="1" k3="0.27" k4="-0.135"/></filter><filter id="pf18" x="0" y="0" width="100%" height="100%" color-interpolation-filters="sRGB"><feGaussianBlur stdDeviation="0.55" result="b"/><feTurbulence type="fractalNoise" baseFrequency="0.14" numOctaves="2" seed="21" result="t"/><feColorMatrix in="t" type="matrix" values="0.6 0.4 0 0 0  0.5 0.5 0 0 0  0.4 0.5 0.1 0 0  0 0 0 0 1" result="n"/><feComposite in="b" in2="n" operator="arithmetic" k1="0" k2="1" k3="0.27" k4="-0.135"/></filter><filter id="pf19" x="0" y="0" width="100%" height="100%" color-interpolation-filters="sRGB"><feGaussianBlur stdDeviation="0.55" result="b"/><feTurbulence type="fractalNoise" baseFrequency="0.14" numOctaves="2" seed="22" result="t"/><feColorMatrix in="t" type="matrix" values="0.6 0.4 0 0 0  0.5 0.5 0 0 0  0.4 0.5 0.1 0 0  0 0 0 0 1" result="n"/><feComposite in="b" in2="n" operator="arithmetic" k1="0" k2="1" k3="0.12" k4="-0.060"/></filter><filter id="soft" x="-10%" y="-10%" width="120%" height="120%"><feGaussianBlur stdDeviation="11"/></filter></defs>
<clipPath id="pc0"><rect x="147.5" y="1298.5" width="62.2" height="131.8" rx="6"/></clipPath>
<g clip-path="url(#pc0)"><g filter="url(#pf0)"><g transform="translate(138 1286) scale(0.11500)"><rect x="65" y="90" width="600" height="1190" fill="url(#g_elk)" /><g filter="url(#soft)"><ellipse cx="155" cy="600" rx="110" ry="130" fill="#A09858" opacity="0.9"/><ellipse cx="565" cy="520" rx="110" ry="80" fill="#8A8A4C" opacity="0.9"/><ellipse cx="345" cy="1050" rx="260" ry="120" fill="#D8D884" opacity="0.7"/><path d="M220 560 q70 -50 130 -10 q130 -40 305 0 v330 q-90 50 -170 20 q-110 10 -170 -70 q-50 -90 -50 -170 q-40 -40 -40 -100z" fill="#432820" /><path d="M430 580 q110 -30 225 -10 v300 q-110 40 -200 -20z" fill="#8E6650" opacity="0.8"/><path d="M510 640 q60 -20 145 0 v200 q-60 20 -120 -20z" fill="#A88068" opacity="0.45"/></g><path d="M135 130 l-30 300" fill="none" stroke="#A4B0D0" stroke-width="12" stroke-linecap="round" stroke-linejoin="round" opacity="0.5"/><path d="M215 130 l-30 300" fill="none" stroke="#A4B0D0" stroke-width="12" stroke-linecap="round" stroke-linejoin="round" opacity="0.5"/><path d="M295 130 l-30 300" fill="none" stroke="#A4B0D0" stroke-width="12" stroke-linecap="round" stroke-linejoin="round" opacity="0.5"/><path d="M385 130 l-30 300" fill="none" stroke="#A4B0D0" stroke-width="12" stroke-linecap="round" stroke-linejoin="round" opacity="0.5"/><path d="M475 130 l-30 300" fill="none" stroke="#A4B0D0" stroke-width="12" stroke-linecap="round" stroke-linejoin="round" opacity="0.5"/><path d="M555 130 l-30 300" fill="none" stroke="#A4B0D0" stroke-width="12" stroke-linecap="round" stroke-linejoin="round" opacity="0.5"/><path d="M430 890 h60 l-25 400 h-35z" fill="#2A1612" /><path d="M570 910 h48 l22 330 h-34z" fill="#2F1A16" /><path d="M210 570 q30 -30 70 -10" fill="none" stroke="#DCCCB4" stroke-width="16" stroke-linecap="round" stroke-linejoin="round" /><path d="M270 550 L115 410 M210 500 L170 440 M310 545 L290 430 M330 550 L620 375 M460 465 L520 450" fill="none" stroke="#3A2A1E" stroke-width="14" stroke-linecap="round" stroke-linejoin="round" /><path d="M190 360 l-12 70 M305 370 l-12 60 M115 330 l5 60 M575 350 l-8 50" fill="none" stroke="#E8ECF4" stroke-width="11" stroke-linecap="round" stroke-linejoin="round" /><ellipse cx="140" cy="975" rx="60" ry="17" fill="#2E2A22" /></g></g></g>
<rect x="145.2" y="1296.2" width="66.7" height="136.3" rx="9.5" fill="none" stroke="#AE2CCB" stroke-width="6.5"/>
<clipPath id="pc1"><rect x="223.4" y="1298.5" width="60.2" height="131.8" rx="6"/></clipPath>
<g clip-path="url(#pc1)"><g filter="url(#pf1)"><g transform="translate(138 1286) scale(0.11500)"><rect x="730" y="90" width="560" height="1190" fill="url(#g_eld)" /><g filter="url(#soft)"><ellipse cx="1150" cy="300" rx="150" ry="170" fill="#1C441E" /><ellipse cx="830" cy="700" rx="100" ry="170" fill="#1A4620" /><ellipse cx="1120" cy="1000" rx="140" ry="160" fill="#4A8C46" /><ellipse cx="1180" cy="800" rx="90" ry="70" fill="#1D4820" /><ellipse cx="1000" cy="200" rx="130" ry="70" fill="#3C7C36" /><ellipse cx="820" cy="1150" rx="90" ry="100" fill="#2A5A2A" /><path d="M750 820 Q880 720 920 560 Q960 470 1060 490 Q1120 560 1250 690 L1240 740 Q1120 740 1010 730 Q980 900 900 1010 Q850 1100 800 1250 L750 1250z" fill="#CCAC90" /><path d="M750 900 Q860 820 930 640 Q900 900 750 1100z" fill="#B8947A" opacity="0.7"/></g><path d="M1012 735 Q985 900 905 1015 Q850 1110 805 1250" fill="none" stroke="#F0EADC" stroke-width="16" stroke-linecap="round" stroke-linejoin="round" opacity="0.8"/><path d="M900 470 Q790 380 770 170 M850 400 Q830 280 930 190 M800 290 L850 150 M960 440 Q1060 470 1120 440 Q1160 420 1180 370 M1080 450 L1075 400" fill="none" stroke="#EEE4CC" stroke-width="22" stroke-linecap="round" stroke-linejoin="round" /><path d="M880 470 Q930 430 990 470 L960 520z" fill="#E8D8C0" /><ellipse cx="1070" cy="575" rx="18" ry="9" fill="#5A4030" /><ellipse cx="1225" cy="700" rx="16" ry="12" fill="#7A5A48" /></g></g></g>
<rect x="221.2" y="1296.2" width="64.7" height="136.3" rx="9.5" fill="none" stroke="#F5A52C" stroke-width="6.5"/>
<clipPath id="pc2"><rect x="298.2" y="1298.5" width="60.2" height="131.8" rx="6"/></clipPath>
<g clip-path="url(#pc2)"><g filter="url(#pf2)"><g transform="translate(138 1286) scale(0.11500)"><rect x="1380" y="90" width="560" height="1190" fill="url(#g_nip)" /><g filter="url(#soft)"><ellipse cx="1500" cy="400" rx="90" ry="260" fill="#B4D47A" opacity="0.6"/><path d="M1900 650 L1790 630 Q1650 690 1560 700 Q1480 800 1400 975 L1440 1035 Q1560 990 1700 965 L1900 950z" fill="#7E5236" /><path d="M1740 640 h160 v300 h-130 q-60 -150 -30 -300z" fill="#96643E" opacity="0.9"/><path d="M1480 900 Q1560 880 1660 900 L1640 960 Q1540 990 1440 1030z" fill="#5E3A26" opacity="0.8"/></g><path d="M1700 700 q60 40 40 130 q-10 60 40 90" fill="none" stroke="#D0C0B0" stroke-width="26" stroke-linecap="round" stroke-linejoin="round" opacity="0.5"/><ellipse cx="1570" cy="835" rx="30" ry="16" fill="#2E1C12" /><ellipse cx="1415" cy="990" rx="22" ry="28" fill="#22140E" /><path d="M1790 630 q30 -40 70 -10" fill="none" stroke="#5A4A30" stroke-width="22" stroke-linecap="round" stroke-linejoin="round" /><path d="M1530 690 Q1480 450 1540 290 Q1560 200 1550 150 M1535 300 L1575 235 M1500 470 L1468 395 M1620 660 Q1760 480 1780 300 Q1800 200 1790 160 M1750 420 L1735 480" fill="none" stroke="#2E2C1A" stroke-width="20" stroke-linecap="round" stroke-linejoin="round" /><path d="M1530 690 Q1500 560 1505 440" fill="none" stroke="#8A8468" stroke-width="16" stroke-linecap="round" stroke-linejoin="round" opacity="0.8"/></g></g></g>
<rect x="295.9" y="1296.2" width="64.7" height="136.3" rx="9.5" fill="none" stroke="#CDB577" stroke-width="6.5"/>
<clipPath id="pc3"><rect x="372.0" y="1298.5" width="60.2" height="131.8" rx="6"/></clipPath>
<g clip-path="url(#pc3)"><g filter="url(#pf3)"><g transform="translate(360 1286) scale(0.11500)"><rect x="80" y="90" width="580" height="1190" fill="url(#g_cap)" /><g filter="url(#soft)"><path d="M180 490 Q320 410 420 500 Q490 590 540 650 L600 690 L580 760 Q480 750 360 800 Q300 1010 180 1170 L110 1250 L110 530z" fill="#C0986A" /><path d="M110 810 Q240 870 180 1170 L110 1250z" fill="#A07E54" opacity="0.8"/><path d="M240 530 Q340 490 420 530 L380 630 Q300 650 240 610z" fill="#B47E48" opacity="0.7"/></g><path d="M150 290 Q230 350 250 490 L190 510 Q140 410 150 290z" fill="#D8C4A4" /><path d="M410 360 Q470 310 470 400 L430 500 L390 480z" fill="#D4C0A0" /><path d="M270 490 L220 240 M310 480 L305 290 M350 480 L360 230 M380 490 L420 280" fill="none" stroke="#B49A78" stroke-width="22.0" stroke-linecap="round" stroke-linejoin="round" /><ellipse cx="390.0" cy="565.0" rx="28.0" ry="13.0" fill="#3E261A" /><ellipse cx="555.0" cy="695.0" rx="46.0" ry="34.0" fill="#241614" /><ellipse cx="545.0" cy="745.0" rx="30.0" ry="15.0" fill="#E8E0D0" /></g></g></g>
<rect x="369.8" y="1296.2" width="64.7" height="136.3" rx="9.5" fill="none" stroke="#C9249F" stroke-width="6.5"/>
<clipPath id="pc4"><rect x="445.9" y="1298.5" width="60.2" height="131.8" rx="6"/></clipPath>
<g clip-path="url(#pc4)"><g filter="url(#pf4)"><g transform="translate(360 1286) scale(0.11500)"><rect x="740" y="90" width="560" height="1190" fill="url(#g_ser)" /><g filter="url(#soft)"><rect x="1080" y="90" width="220" height="540" fill="#8C9A6E" opacity="0.8"/><ellipse cx="1130" cy="180" rx="60" ry="90" fill="#74844F" /><ellipse cx="790" cy="820" rx="60" ry="300" fill="#9EB4A4" /><ellipse cx="900" cy="220" rx="100" ry="100" fill="#D8D8C4" opacity="0.8"/><path d="M760 320 Q850 350 900 470 Q1000 440 1100 480 Q1170 380 1250 300 L1260 1250 L790 1250 Q850 1000 850 760 Q840 620 760 500z" fill="#26262C" /><ellipse cx="1000" cy="640" rx="130" ry="110" fill="#3C3C48" opacity="0.8"/><ellipse cx="1050" cy="1050" rx="200" ry="180" fill="#1C1C22" opacity="0.85"/></g><path d="M1130 480 Q1200 380 1250 320 L1250 480 Q1190 500 1150 500z" fill="#5E5A4A" /><path d="M770 340 Q840 380 880 470 L830 540 L765 490z" fill="#4E3C36" /><path d="M1010 860 q60 -40 110 -10 q-20 40 -60 60z" fill="#DADADA" /><ellipse cx="1200" cy="810" rx="40" ry="22" fill="#E0E0E0" opacity="0.75"/><ellipse cx="960" cy="590" rx="30" ry="16" fill="#22222A" /><path d="M940 420 Q980 380 1020 420" fill="none" stroke="#A09888" stroke-width="16" stroke-linecap="round" stroke-linejoin="round" opacity="0.8"/><rect x="760" y="1190" width="500" height="70" fill="#2A1614" opacity="0.7"/></g></g></g>
<rect x="443.6" y="1296.2" width="64.7" height="136.3" rx="9.5" fill="none" stroke="#EE672B" stroke-width="6.5"/>
<clipPath id="pc5"><rect x="520.3" y="1298.5" width="60.8" height="131.8" rx="6"/></clipPath>
<g clip-path="url(#pc5)"><g filter="url(#pf5)"><g transform="translate(360 1286) scale(0.11500)"><rect x="1380" y="90" width="560" height="1190" fill="#17130E" /><g filter="url(#soft)"><path d="M1450 1250 Q1500 900 1640 730 Q1760 680 1910 690 L1910 1260z" fill="#6AA650" /><path d="M1640 780 Q1760 740 1910 760 L1910 920 Q1760 900 1600 1000z" fill="#8CC06C" opacity="0.6"/><ellipse cx="1800" cy="1100" rx="120" ry="120" fill="#5C9844" opacity="0.7"/><path d="M1400 260 Q1440 200 1500 210 Q1560 260 1600 300 Q1720 330 1800 430 Q1860 500 1900 570 L1880 640 Q1800 660 1700 660 Q1640 720 1560 850 Q1500 960 1470 1100 L1440 1250 L1390 1250z" fill="#5E5654" /><path d="M1400 880 Q1470 900 1460 1050 L1440 1250 L1390 1250z" fill="#383230" /><ellipse cx="1640" cy="480" rx="120" ry="90" fill="#7E7674" opacity="0.7"/></g><path d="M1410 240 Q1470 200 1540 260 Q1520 330 1480 370 Q1430 340 1410 300z" fill="#BEB6AE" /><path d="M1440 360 q50 30 100 10" fill="none" stroke="#E4E0DC" stroke-width="18" stroke-linecap="round" stroke-linejoin="round" /><path d="M1780 600 q50 -30 90 -20 l-10 40 q-40 10 -70 10z" fill="#E0DCD8" /><ellipse cx="1730" cy="470" rx="20" ry="10" fill="#D0CCC8" opacity="0.8"/><ellipse cx="1880" cy="600" rx="18" ry="22" fill="#1E1816" /></g></g></g>
<rect x="518.0" y="1296.2" width="65.3" height="136.3" rx="9.5" fill="none" stroke="#9C6C3E" stroke-width="6.5"/>
<clipPath id="pc6"><rect x="594.7" y="1298.5" width="60.2" height="131.8" rx="6"/></clipPath>
<g clip-path="url(#pc6)"><g filter="url(#pf6)"><g transform="translate(582 1286) scale(0.11500)"><rect x="100" y="90" width="560" height="1190" fill="url(#g_hyd)" /><g filter="url(#soft)"><ellipse cx="560" cy="180" rx="100" ry="80" fill="#2C5822" /><ellipse cx="200" cy="300" rx="80" ry="180" fill="#465E58" opacity="0.8"/><path d="M105 620 Q230 600 290 500 Q330 440 400 470 Q460 520 470 600 L440 650 Q410 700 400 780 Q330 850 280 930 Q220 1050 190 1250 L105 1250z" fill="#C47E48" /><path d="M105 700 Q220 700 260 820 Q200 1000 105 1100z" fill="#B06A38" opacity="0.7"/><path d="M200 1130 q200 -60 440 -20 v90 h-440z" fill="#7E8C52" opacity="0.85"/></g><path d="M400 640 q30 60 0 140 q-40 40 -40 -40z" fill="#ECE0CC" /><path d="M210 400 Q250 360 300 470 Q260 480 230 450z M450 470 Q520 380 570 380 Q560 440 480 490z" fill="#B48C8C" /><path d="M270 430 Q210 300 250 200 M330 440 L330 320 M420 450 Q500 300 440 190 M390 450 L400 330" fill="none" stroke="#BCA8A0" stroke-width="24" stroke-linecap="round" stroke-linejoin="round" /><path d="M250 210 Q270 180 290 210 M420 200 Q445 170 465 205" fill="none" stroke="#D4DCC8" stroke-width="16" stroke-linecap="round" stroke-linejoin="round" /><ellipse cx="440" cy="610" rx="24" ry="20" fill="#2A1E1A" /><ellipse cx="350" cy="540" rx="14" ry="10" fill="#3A2A20" /></g></g></g>
<rect x="592.5" y="1296.2" width="64.7" height="136.3" rx="9.5" fill="none" stroke="#D9CF8E" stroke-width="6.5"/>
<clipPath id="pc7"><rect x="668.8" y="1298.5" width="60.2" height="131.8" rx="6"/></clipPath>
<g clip-path="url(#pc7)"><g filter="url(#pf7)"><g transform="translate(582 1286) scale(0.11500)"><rect x="740" y="90" width="560" height="1190" fill="url(#g_cri)" /><g filter="url(#soft)"><path d="M780 500 Q840 320 940 200 Q1040 150 1110 170 L1130 250 L1060 300 Q1150 380 1285 360 L1285 760 Q1150 640 1020 500 Q920 460 800 520z" fill="#7C4E2A" /><path d="M1100 400 Q1200 420 1285 400 L1285 700 Q1180 600 1100 400z" fill="#5C3A22" opacity="0.8"/><ellipse cx="1000" cy="1050" rx="260" ry="40" fill="#A89878" opacity="0.5"/><ellipse cx="1000" cy="920" rx="260" ry="30" fill="#C4B49C" opacity="0.5"/></g><path d="M900 260 Q980 170 1100 175 L1120 250 Q1020 300 940 330z" fill="#CC8C4C" /><path d="M800 420 q80 -40 150 0 q-60 60 -150 40z" fill="#B88448" opacity="0.8"/><path d="M1000 180 l20 -40 M1090 180 l25 -30" fill="none" stroke="#C89858" stroke-width="16" stroke-linecap="round" stroke-linejoin="round" /><ellipse cx="1000" cy="1125" rx="50" ry="14" fill="#B87860" opacity="0.7"/></g></g></g>
<rect x="666.5" y="1296.2" width="64.7" height="136.3" rx="9.5" fill="none" stroke="#F3E425" stroke-width="6.5"/>
<clipPath id="pc8"><rect x="742.9" y="1298.5" width="60.2" height="131.8" rx="6"/></clipPath>
<g clip-path="url(#pc8)"><g filter="url(#pf8)"><g transform="translate(582 1286) scale(0.11500)"><rect x="1380" y="90" width="560" height="1190" fill="url(#g_mun)" /><g filter="url(#soft)"><ellipse cx="1500" cy="350" rx="110" ry="130" fill="#D2D6AC" opacity="0.85"/><ellipse cx="1840" cy="300" rx="90" ry="120" fill="#CCD29C" opacity="0.85"/><ellipse cx="1880" cy="700" rx="60" ry="200" fill="#C4CE94" opacity="0.75"/><ellipse cx="1430" cy="900" rx="36" ry="200" fill="#56662E" opacity="0.8"/><ellipse cx="1660" cy="160" rx="120" ry="50" fill="#6A6A48" opacity="0.7"/><path d="M1450 760 Q1520 650 1620 640 L1800 650 Q1840 800 1830 1000 L1820 1260 L1440 1260 Q1430 1000 1450 760z" fill="#B46E44" /><path d="M1620 640 L1800 650 Q1820 900 1800 1260 L1640 1260 Q1620 900 1620 640z" fill="#A27058" opacity="0.7"/><path d="M1600 480 Q1700 420 1800 480 Q1790 600 1740 720 L1680 740 Q1620 620 1600 480z" fill="#8A6866" /></g><path d="M1520 420 Q1600 430 1620 520 Q1560 520 1520 420z M1880 400 Q1800 430 1790 520 Q1850 500 1880 400z" fill="#C49484" /><path d="M1640 470 L1620 290 M1760 470 L1800 320" fill="none" stroke="#AE8C6C" stroke-width="24" stroke-linecap="round" stroke-linejoin="round" /><path d="M1690 520 L1700 700" fill="none" stroke="#5A4648" stroke-width="30" stroke-linecap="round" stroke-linejoin="round" opacity="0.7"/><ellipse cx="1635" cy="555" rx="16" ry="18" fill="#1E1614" /><ellipse cx="1775" cy="560" rx="16" ry="18" fill="#1E1614" /><ellipse cx="1700" cy="720" rx="30" ry="22" fill="#30222A" /><path d="M1470 1100 q20 -60 60 0 v160 h-60z M1700 1120 q30 -40 60 0 v140 h-60z" fill="#665654" /></g></g></g>
<rect x="740.6" y="1296.2" width="64.7" height="136.3" rx="9.5" fill="none" stroke="#F2C62A" stroke-width="6.5"/>
<clipPath id="pc9"><rect x="815.4" y="1298.5" width="60.2" height="131.8" rx="6"/></clipPath>
<g clip-path="url(#pc9)"><g filter="url(#pf9)"><g transform="translate(804 1286) scale(0.11500)"><rect x="90" y="90" width="560" height="1190" fill="url(#g_ree)" /><g filter="url(#soft)"><ellipse cx="200" cy="300" rx="120" ry="140" fill="#D0D0CE" opacity="0.8"/><path d="M95 470 Q220 470 300 420 Q290 340 300 290 Q400 250 480 300 Q540 400 560 480 L610 560 L560 580 Q480 590 440 640 Q380 760 330 820 Q260 880 95 870z" fill="#A68A62" /><path d="M95 480 Q220 480 300 560 Q280 760 95 820z" fill="#64483A" opacity="0.85"/><path d="M240 880 Q290 1040 370 1250" fill="none" stroke="#CDBFB0" stroke-width="46" stroke-linecap="round" stroke-linejoin="round" /></g><path d="M440 640 Q380 760 330 820 Q300 850 250 870 Q360 700 440 640z" fill="#E6DECA" /><path d="M250 230 Q300 260 330 340 L280 350z" fill="#8A7458" /><path d="M380 150 L520 360 M430 200 L500 300" fill="none" stroke="#5A5040" stroke-width="22" stroke-linecap="round" stroke-linejoin="round" /><path d="M400 240 Q460 280 500 360" fill="none" stroke="#D8CCB0" stroke-width="18" stroke-linecap="round" stroke-linejoin="round" opacity="0.8"/><ellipse cx="450" cy="435" rx="24" ry="14" fill="#3A2A22" /><ellipse cx="592" cy="560" rx="20" ry="14" fill="#2A201C" /><path d="M110 1020 h100 v140 h-100z" fill="#4A4A46" /><path d="M290 1060 L370 1250" fill="none" stroke="#5A4E44" stroke-width="12" stroke-linecap="round" stroke-linejoin="round" opacity="0.8"/></g></g></g>
<rect x="813.1" y="1296.2" width="64.7" height="136.3" rx="9.5" fill="none" stroke="#9B6437" stroke-width="6.5"/>
<clipPath id="pc10"><rect x="889.0" y="1298.5" width="60.2" height="131.8" rx="6"/></clipPath>
<g clip-path="url(#pc10)"><g filter="url(#pf10)"><g transform="translate(804 1286) scale(0.11500)"><rect x="730" y="90" width="560" height="1190" fill="url(#g_rus)" /><g filter="url(#soft)"><ellipse cx="1020" cy="400" rx="150" ry="140" fill="#9CB44E" opacity="0.6"/><ellipse cx="1180" cy="900" rx="90" ry="260" fill="#C4C078" opacity="0.7"/><path d="M760 120 v700 M1240 120 v500" fill="none" stroke="#464630" stroke-width="44" stroke-linecap="round" stroke-linejoin="round" opacity="0.7"/><ellipse cx="1000" cy="170" rx="240" ry="60" fill="#4A5838" opacity="0.8"/><path d="M880 1260 Q920 1100 1000 1050 L1080 1080 Q1050 1180 1060 1260z" fill="#E4DCC4" /><path d="M980 600 L1080 600 Q1100 680 1080 760 Q1060 840 1050 950 Q980 1040 880 1090 L850 1260 L750 1260 L740 800 Q850 750 960 760z" fill="#38282E" /><path d="M760 820 Q850 760 940 780 Q900 900 760 1000z" fill="#52485A" opacity="0.8"/></g><ellipse cx="920" cy="570" rx="34" ry="42" fill="#1E1618" /><ellipse cx="1130" cy="560" rx="34" ry="40" fill="#1E1618" /><path d="M980 560 Q860 460 860 260 M870 330 L900 240 M1080 560 Q1200 440 1180 250 M1170 320 L1130 260" fill="none" stroke="#38321F" stroke-width="18" stroke-linecap="round" stroke-linejoin="round" /><ellipse cx="1030" cy="700" rx="30" ry="26" fill="#5A4A52" opacity="0.8"/></g></g></g>
<rect x="886.8" y="1296.2" width="64.7" height="136.3" rx="9.5" fill="none" stroke="#F28F2C" stroke-width="6.5"/>
<clipPath id="pc11"><rect x="963.7" y="1298.5" width="61.0" height="131.8" rx="6"/></clipPath>
<g clip-path="url(#pc11)"><g filter="url(#pf11)"><g transform="translate(804 1286) scale(0.11500)"><rect x="1365" y="90" width="600" height="1190" fill="url(#g_elk)" /><g filter="url(#soft)"><ellipse cx="1455" cy="600" rx="110" ry="130" fill="#A09858" opacity="0.9"/><ellipse cx="1865" cy="520" rx="110" ry="80" fill="#8A8A4C" opacity="0.9"/><ellipse cx="1645" cy="1050" rx="260" ry="120" fill="#D8D884" opacity="0.7"/><path d="M1510 600 q70 -50 130 -10 q130 -40 315 0 v330 q-90 50 -170 20 q-110 10 -170 -70 q-50 -90 -50 -170 q-40 -40 -40 -100z" fill="#432820" /><path d="M1720 620 q110 -30 235 -10 v300 q-110 40 -200 -20z" fill="#8E6650" opacity="0.8"/><path d="M1800 680 q60 -20 155 0 v200 q-60 20 -120 -20z" fill="#A88068" opacity="0.45"/></g><path d="M1435 130 l-30 300" fill="none" stroke="#A4B0D0" stroke-width="12" stroke-linecap="round" stroke-linejoin="round" opacity="0.5"/><path d="M1515 130 l-30 300" fill="none" stroke="#A4B0D0" stroke-width="12" stroke-linecap="round" stroke-linejoin="round" opacity="0.5"/><path d="M1595 130 l-30 300" fill="none" stroke="#A4B0D0" stroke-width="12" stroke-linecap="round" stroke-linejoin="round" opacity="0.5"/><path d="M1685 130 l-30 300" fill="none" stroke="#A4B0D0" stroke-width="12" stroke-linecap="round" stroke-linejoin="round" opacity="0.5"/><path d="M1775 130 l-30 300" fill="none" stroke="#A4B0D0" stroke-width="12" stroke-linecap="round" stroke-linejoin="round" opacity="0.5"/><path d="M1855 130 l-30 300" fill="none" stroke="#A4B0D0" stroke-width="12" stroke-linecap="round" stroke-linejoin="round" opacity="0.5"/><path d="M1720 930 h60 l-25 400 h-35z" fill="#2A1612" /><path d="M1860 950 h48 l22 330 h-34z" fill="#2F1A16" /><path d="M1500 610 q30 -30 70 -10" fill="none" stroke="#DCCCB4" stroke-width="16" stroke-linecap="round" stroke-linejoin="round" /><path d="M1560 590 L1415 450 M1500 540 L1460 480 M1600 585 L1580 470 M1620 590 L1920 415 M1750 505 L1810 490" fill="none" stroke="#3A2A1E" stroke-width="14" stroke-linecap="round" stroke-linejoin="round" /><path d="M1480 400 l-12 70 M1595 410 l-12 60 M1415 370 l5 60 M1875 390 l-8 50" fill="none" stroke="#E8ECF4" stroke-width="11" stroke-linecap="round" stroke-linejoin="round" /><ellipse cx="1440" cy="975" rx="60" ry="17" fill="#2E2A22" /></g></g></g>
<rect x="961.5" y="1296.2" width="65.5" height="136.3" rx="9.5" fill="none" stroke="#A821CD" stroke-width="6.5"/>
<clipPath id="pc12"><rect x="1039.0" y="1298.5" width="60.2" height="131.8" rx="6"/></clipPath>
<g clip-path="url(#pc12)"><g filter="url(#pf12)"><g transform="translate(1026 1286) scale(0.11500)"><rect x="110" y="90" width="560" height="1190" fill="url(#g_ibx)" /><g filter="url(#soft)"><ellipse cx="500" cy="400" rx="110" ry="170" fill="#214A1C" /><ellipse cx="250" cy="1000" rx="130" ry="210" fill="#528C40" opacity="0.8"/><ellipse cx="240" cy="420" rx="56" ry="66" fill="#1A3E18" /><ellipse cx="400" cy="1180" rx="200" ry="80" fill="#2E6228" opacity="0.8"/><path d="M330 600 Q420 560 520 640 Q600 640 640 660 L640 1250 L580 1250 Q580 1000 500 860 Q420 900 380 860 Q340 760 330 600z" fill="#806860" /><path d="M440 620 Q540 620 640 680 L640 900 Q540 800 440 620z" fill="#9C726A" opacity="0.8"/></g><path d="M380 660 Q160 600 170 420 Q190 300 300 310 M400 620 Q330 420 380 300 Q410 220 470 220" fill="none" stroke="#C4AC92" stroke-width="46" stroke-linecap="round" stroke-linejoin="round" /><path d="M380 660 Q160 600 170 420 Q190 300 300 310" fill="none" stroke="#7E5E46" stroke-width="46" stroke-linecap="round" stroke-linejoin="round" stroke-dasharray="12 30" opacity="0.7"/><ellipse cx="380" cy="760" rx="30" ry="60" fill="#58382F" /><ellipse cx="430" cy="640" rx="16" ry="12" fill="#2A1A18" /><ellipse cx="590" cy="180" rx="30" ry="30" fill="#D8E0D0" opacity="0.8"/></g></g></g>
<rect x="1036.8" y="1296.2" width="64.7" height="136.3" rx="9.5" fill="none" stroke="#2DB5AC" stroke-width="6.5"/>
<clipPath id="pc13"><rect x="1112.2" y="1298.5" width="60.2" height="131.8" rx="6"/></clipPath>
<g clip-path="url(#pc13)"><g filter="url(#pf13)"><g transform="translate(1026 1286) scale(0.11500)"><rect x="740" y="90" width="560" height="1190" fill="url(#g_ela)" /><g filter="url(#soft)"><ellipse cx="1030" cy="330" rx="190" ry="180" fill="#8C9888" opacity="0.8"/><ellipse cx="1180" cy="700" rx="70" ry="250" fill="#CACECA" opacity="0.8"/><ellipse cx="820" cy="400" rx="50" ry="200" fill="#D4D8D4" opacity="0.7"/><ellipse cx="1050" cy="1100" rx="200" ry="80" fill="#C8C0A4" opacity="0.7"/><path d="M780 660 Q880 600 960 640 L1000 560 Q1050 540 1080 600 Q1070 700 1040 760 Q1040 880 980 940 L960 1060 Q940 1140 900 1250 L860 1250 Q900 1100 900 960 L820 940 Q800 1080 810 1250 L770 1250 Q760 900 780 660z" fill="#888896" /></g><path d="M1200 620 v420" fill="none" stroke="#888886" stroke-width="30" stroke-linecap="round" stroke-linejoin="round" opacity="0.8"/><path d="M960 640 Q1000 560 1080 600 Q1070 700 1040 760z" fill="#66606C" opacity="0.9"/><path d="M980 560 Q850 420 850 200 M1080 560 Q1240 400 1230 200 M900 460 Q1040 520 1180 430" fill="none" stroke="#DADEDA" stroke-width="18" stroke-linecap="round" stroke-linejoin="round" /><path d="M900 700 Q940 800 920 920" fill="none" stroke="#B0B0BC" stroke-width="30" stroke-linecap="round" stroke-linejoin="round" opacity="0.7"/></g></g></g>
<rect x="1110.0" y="1296.2" width="64.7" height="136.3" rx="9.5" fill="none" stroke="#1E22DC" stroke-width="6.5"/>
<clipPath id="pc14"><rect x="1186.3" y="1298.5" width="60.2" height="131.8" rx="6"/></clipPath>
<g clip-path="url(#pc14)"><g filter="url(#pf14)"><g transform="translate(1026 1286) scale(0.11500)"><rect x="1380" y="90" width="560" height="1190" fill="url(#g_gaz)" /><g filter="url(#soft)"><ellipse cx="1650" cy="1100" rx="300" ry="100" fill="#A68C74" opacity="0.7"/><path d="M1390 560 Q1500 600 1600 540 Q1660 440 1760 470 Q1820 560 1850 640 L1830 690 Q1760 700 1700 700 Q1600 800 1480 860 L1390 890z" fill="#BE9E6E" /><path d="M1390 600 Q1480 640 1560 620 Q1500 760 1390 800z" fill="#C88E58" opacity="0.7"/></g><path d="M1640 500 Q1720 460 1780 500 Q1820 580 1840 650 L1800 690 Q1700 680 1660 600z" fill="#CDC2A8" /><path d="M1540 580 Q1600 520 1640 440" fill="none" stroke="#4A3A30" stroke-width="22" stroke-linecap="round" stroke-linejoin="round" /><path d="M1700 440 Q1640 280 1670 160 M1770 440 Q1810 300 1750 165" fill="none" stroke="#2C3C5E" stroke-width="18" stroke-linecap="round" stroke-linejoin="round" /><path d="M1800 440 L1870 410 L1830 480z M1650 400 L1690 440 L1650 450z" fill="#C8C8D0" /><ellipse cx="1720" cy="550" rx="22" ry="12" fill="#2A2220" /><ellipse cx="1835" cy="660" rx="14" ry="14" fill="#4A3A38" /><ellipse cx="1410" cy="870" rx="16" ry="20" fill="#E0E4D8" opacity="0.8"/></g></g></g>
<rect x="1184.0" y="1296.2" width="64.7" height="136.3" rx="9.5" fill="none" stroke="#2ECFD3" stroke-width="6.5"/>
<clipPath id="pc15"><rect x="1260.0" y="1298.5" width="60.2" height="131.8" rx="6"/></clipPath>
<g clip-path="url(#pc15)"><g filter="url(#pf15)"><g transform="translate(1248 1286) scale(0.11500)"><rect x="100" y="90" width="560" height="1190" fill="url(#g_gor)" /><g filter="url(#soft)"><ellipse cx="520" cy="950" rx="120" ry="270" fill="#B6967A" opacity="0.8"/><ellipse cx="560" cy="620" rx="56" ry="130" fill="#8C9A56" opacity="0.8"/><ellipse cx="200" cy="500" rx="90" ry="70" fill="#7E8868" opacity="0.7"/><path d="M130 360 Q220 330 300 310 Q400 330 480 400 Q540 450 570 490 L540 520 Q480 520 440 520 Q440 640 420 760 Q380 900 340 1000 L320 1250 L170 1250 Q140 1000 105 900 L105 660 Q200 620 280 560 Q290 460 300 400 Q220 390 130 380z" fill="#C2BAA2" /><path d="M105 700 Q200 660 260 700 Q240 900 160 1000 L105 900z" fill="#A8A090" opacity="0.8"/></g><path d="M330 150 l80 120 l140 -20 l-100 120z" fill="#7C9E46" opacity="0.9"/><path d="M230 300 Q300 280 360 330 L350 350 Q290 330 230 320z" fill="#583836" /><path d="M290 560 Q360 560 440 540 Q440 700 400 800 Q340 700 290 560z" fill="#D2CEBE" opacity="0.8"/><ellipse cx="385" cy="410" rx="22" ry="12" fill="#2A1E1A" /><ellipse cx="545" cy="490" rx="22" ry="16" fill="#1E1614" /><path d="M180 1130 v120 M310 1060 v190" fill="none" stroke="#2A2420" stroke-width="28" stroke-linecap="round" stroke-linejoin="round" /><path d="M250 940 q60 -40 90 20 q-20 60 -80 40z" fill="#5A5038" opacity="0.8"/><ellipse cx="520" cy="1050" rx="40" ry="40" fill="#9A6A60" opacity="0.6"/><ellipse cx="470" cy="860" rx="40" ry="30" fill="#C89888" opacity="0.6"/></g></g></g>
<rect x="1257.8" y="1296.2" width="64.7" height="136.3" rx="9.5" fill="none" stroke="#2A9185" stroke-width="6.5"/>
<clipPath id="pc16"><rect x="1335.8" y="1298.5" width="60.2" height="131.8" rx="6"/></clipPath>
<g clip-path="url(#pc16)"><g filter="url(#pf16)"><g transform="translate(1248 1286) scale(0.11500)"><rect x="750" y="90" width="560" height="1190" fill="url(#g_ovi)" /><g filter="url(#soft)"><ellipse cx="1180" cy="720" rx="100" ry="70" fill="#B8A490" opacity="0.7"/><ellipse cx="1100" cy="1150" rx="170" ry="70" fill="#D8B890" opacity="0.6"/><ellipse cx="1150" cy="250" rx="120" ry="100" fill="#C88E4C" opacity="0.7"/><path d="M760 520 Q860 560 960 600 Q1040 640 1040 720 Q960 820 900 900 Q860 960 830 1060 L760 1000z" fill="#7C482A" /><path d="M760 640 Q900 640 1010 720 Q940 860 880 940 Q820 960 760 940z" fill="#4C2C20" opacity="0.85"/><path d="M1000 400 Q1100 400 1220 480 L1210 510 Q1120 560 1060 600 Q1000 560 1000 400z" fill="#B68C62" /></g><path d="M1060 580 Q900 640 830 500 Q800 360 930 310 Q1060 300 1080 420" fill="none" stroke="#C6A27A" stroke-width="72" stroke-linecap="round" stroke-linejoin="round" /><path d="M1060 580 Q900 640 830 500 Q800 360 930 310" fill="none" stroke="#A07C58" stroke-width="20" stroke-linecap="round" stroke-linejoin="round" opacity="0.6"/><ellipse cx="945" cy="460" rx="52" ry="72" fill="#88543E" /><ellipse cx="945" cy="440" rx="26" ry="36" fill="#C49A88" opacity="0.7"/><ellipse cx="1070" cy="425" rx="16" ry="12" fill="#2A1E1A" /><ellipse cx="1215" cy="490" rx="12" ry="12" fill="#2A1E1A" /></g></g></g>
<rect x="1333.5" y="1296.2" width="64.7" height="136.3" rx="9.5" fill="none" stroke="#9AA6E4" stroke-width="6.5"/>
<clipPath id="pc17"><rect x="1409.7" y="1298.5" width="60.2" height="131.8" rx="6"/></clipPath>
<g clip-path="url(#pc17)"><g filter="url(#pf17)"><g transform="translate(1400 1286) scale(0.11500)"><rect x="70" y="90" width="560" height="1190" fill="url(#g_pro)" /><g filter="url(#soft)"><ellipse cx="520" cy="170" rx="90" ry="56" fill="#6A5A40" opacity="0.8"/><ellipse cx="250" cy="300" rx="160" ry="80" fill="#E8ECF4" opacity="0.7"/><path d="M620 540 Q480 560 400 600 Q300 680 230 780 L170 850 L200 880 Q300 820 400 780 L620 760z" fill="#C4B29E" /><path d="M400 600 Q500 560 620 580 L620 720 Q500 700 400 700z" fill="#B69270" opacity="0.85"/><ellipse cx="350" cy="1050" rx="280" ry="60" fill="#6A5C48" opacity="0.7"/></g><path d="M90 830 h520 v60 h-520z" fill="#E8E8EC" opacity="0.8"/><path d="M215 630 Q150 480 235 345 M250 600 Q230 470 318 345" fill="none" stroke="#24242A" stroke-width="22" stroke-linecap="round" stroke-linejoin="round" /><path d="M290 620 L380 520" fill="none" stroke="#B0A898" stroke-width="16" stroke-linecap="round" stroke-linejoin="round" /><ellipse cx="260" cy="715" rx="22" ry="18" fill="#2A2422" /><ellipse cx="185" cy="855" rx="18" ry="16" fill="#4A4240" /><ellipse cx="420" cy="540" rx="18" ry="22" fill="#5A5048" /><path d="M90 1215 h520 v50 h-520z" fill="#E8E8F0" opacity="0.9"/></g></g></g>
<rect x="1407.5" y="1296.2" width="64.7" height="136.3" rx="9.5" fill="none" stroke="#5E5DE6" stroke-width="6.5"/>
<clipPath id="pc18"><rect x="1483.9" y="1298.5" width="61.2" height="131.8" rx="6"/></clipPath>
<g clip-path="url(#pc18)"><g filter="url(#pf18)"><g transform="translate(1400 1286) scale(0.11500)"><rect x="710" y="90" width="590" height="1190" fill="url(#g_pse)" /><g filter="url(#soft)"><ellipse cx="1180" cy="380" rx="160" ry="260" fill="#1A2448" opacity="0.9"/><ellipse cx="900" cy="130" rx="200" ry="60" fill="#222C50" opacity="0.8"/><path d="M725 400 Q800 600 760 1000 L725 1250 L900 1250 L900 700z" fill="#A6AEC2" opacity="0.9"/><path d="M860 520 Q960 440 1100 520 Q1220 620 1270 800 L1270 1000 Q1200 1000 1180 1250 L1080 1250 L1060 1000 L1000 1000 L990 1250 L940 1250 L930 980 Q860 800 860 520z" fill="#98A0B2" /><path d="M900 800 Q1000 760 1100 820 Q1080 940 1000 960 Q920 940 900 800z" fill="#484A5A" opacity="0.85"/></g><path d="M740 260 Q840 160 960 280 M1000 280 Q1100 140 1270 220" fill="none" stroke="#8C8E96" stroke-width="64" stroke-linecap="round" stroke-linejoin="round" /><path d="M760 230 Q850 170 940 250 M1020 250 Q1110 160 1250 200" fill="none" stroke="#B4B8C0" stroke-width="16" stroke-linecap="round" stroke-linejoin="round" opacity="0.7"/><path d="M900 300 Q980 260 1060 300 Q1060 480 1000 620 L960 620 Q900 480 900 300z" fill="#3A3A4A" /><path d="M760 330 Q840 340 890 400 Q820 400 760 330z M1200 330 Q1130 340 1080 400 Q1150 400 1200 330z" fill="#DCE0E8" /><path d="M950 1020 v230 M1100 1030 v220 M1190 1020 v220" fill="none" stroke="#383A48" stroke-width="42" stroke-linecap="round" stroke-linejoin="round" /><path d="M980 620 Q940 720 900 820 M1000 620 Q1040 720 1100 820" fill="none" stroke="#E0E4EC" stroke-width="30" stroke-linecap="round" stroke-linejoin="round" opacity="0.8"/></g></g></g>
<rect x="1481.7" y="1296.2" width="65.7" height="136.3" rx="9.5" fill="none" stroke="#6467E4" stroke-width="6.5"/>
<clipPath id="pc19"><rect x="1557.9" y="1298.5" width="60.2" height="131.8" rx="6"/></clipPath>
<g clip-path="url(#pc19)"><g filter="url(#pf19)"><g transform="translate(1400 1286) scale(0.11500)"><rect x="1345" y="90" width="580" height="1190" fill="url(#g_cap)" /><g filter="url(#soft)"><path d="M1447 496 Q1591 414 1694 507 Q1766 599 1818 661 L1879 702 L1859 774 Q1756 764 1632 816 Q1570 1032 1447 1197 L1375 1279 L1375 538z" fill="#C0986A" /><path d="M1375 826 Q1509 888 1447 1197 L1375 1279z" fill="#A07E54" opacity="0.8"/><path d="M1509 538 Q1612 496 1694 538 L1653 641 Q1570 661 1509 620z" fill="#B47E48" opacity="0.7"/></g><path d="M1416 290 Q1498 352 1519 496 L1457 517 Q1406 414 1416 290z" fill="#D8C4A4" /><path d="M1684 362 Q1746 311 1746 404 L1704 507 L1663 486z" fill="#D4C0A0" /><path d="M1540 496 L1488 239 M1581 486 L1576 290 M1622 486 L1632 229 M1653 496 L1694 280" fill="none" stroke="#B49A78" stroke-width="22.66" stroke-linecap="round" stroke-linejoin="round" /><ellipse cx="1663.1" cy="573.6500000000001" rx="28.84" ry="13.39" fill="#3E261A" /><ellipse cx="1833.05" cy="707.5500000000001" rx="47.38" ry="35.02" fill="#241614" /><ellipse cx="1822.75" cy="759.0500000000001" rx="30.900000000000002" ry="15.450000000000001" fill="#E8E0D0" /></g></g></g>
<rect x="1555.7" y="1296.2" width="64.7" height="136.3" rx="9.5" fill="none" stroke="#CB1FA0" stroke-width="6.5"/>
<text x="0" y="0" font-size="32" font-style="italic" text-anchor="end" fill="#000" stroke="#000" stroke-width="0.5" transform="translate(188.2 1444.5) rotate(-90) scale(0.872 1)">Alces Alces</text>
<text x="0" y="0" font-size="32" font-style="italic" text-anchor="end" fill="#000" stroke="#000" stroke-width="0.5" transform="translate(263.6 1447.5) rotate(-90) scale(0.872 1)">Cervus eldii</text>
<text x="0" y="0" font-size="32" font-style="italic" text-anchor="end" fill="#000" stroke="#000" stroke-width="0.5" transform="translate(335.9 1447.5) rotate(-90) scale(0.872 1)">Cervus nippon</text>
<text x="0" y="0" font-size="32" font-style="italic" text-anchor="end" fill="#000" stroke="#000" stroke-width="0.5" transform="translate(409.1 1447.5) rotate(-90) scale(0.872 1)">Capreolus pygargus</text>
<text x="0" y="0" font-size="32" font-style="italic" text-anchor="end" fill="#000" stroke="#000" stroke-width="0.5" transform="translate(484.4 1447.5) rotate(-90) scale(0.872 1)">Capricornis sumatraensis</text>
<text x="0" y="0" font-size="32" font-style="italic" text-anchor="end" fill="#000" stroke="#000" stroke-width="0.5" transform="translate(560.8 1448.5) rotate(-90) scale(0.872 1)">Elaphodus cephalophus</text>
<text x="0" y="0" font-size="32" font-style="italic" text-anchor="end" fill="#000" stroke="#000" stroke-width="0.5" transform="translate(635.0 1449.5) rotate(-90) scale(0.872 1)">Hydropotes inermis</text>
<text x="0" y="0" font-size="32" font-style="italic" text-anchor="end" fill="#000" stroke="#000" stroke-width="0.5" transform="translate(709.9 1447.5) rotate(-90) scale(0.872 1)">Muntiacus crinifrons</text>
<text x="0" y="0" font-size="32" font-style="italic" text-anchor="end" fill="#000" stroke="#000" stroke-width="0.5" transform="translate(779.9 1449.5) rotate(-90) scale(0.872 1)">Muntiacus muntjac</text>
<text x="0" y="0" font-size="32" font-style="italic" text-anchor="end" fill="#000" stroke="#000" stroke-width="0.5" transform="translate(855.4 1451.5) rotate(-90) scale(0.872 1)">Muntiacus reevesi</text>
<text x="0" y="0" font-size="32" font-style="italic" text-anchor="end" fill="#000" stroke="#000" stroke-width="0.5" transform="translate(930.8 1452.5) rotate(-90) scale(0.866 1)">Rusa unicolor</text>
<text x="0" y="0" font-size="32" font-style="italic" text-anchor="end" fill="#000" stroke="#000" stroke-width="0.5" transform="translate(1002.6 1453.5) rotate(-90) scale(0.866 1)">Alces alces</text>
<text x="0" y="0" font-size="32" font-style="italic" text-anchor="end" fill="#000" stroke="#000" stroke-width="0.5" transform="translate(1077.8 1451.5) rotate(-90) scale(0.866 1)">Capra sibirica</text>
<text x="0" y="0" font-size="32" font-style="italic" text-anchor="end" fill="#000" stroke="#000" stroke-width="0.5" transform="translate(1151.2 1451.3) rotate(-90) scale(0.866 1)">Cervus elaphus</text>
<text x="0" y="0" font-size="32" font-style="italic" text-anchor="end" fill="#000" stroke="#000" stroke-width="0.5" transform="translate(1224.4 1448.5) rotate(-90) scale(0.866 1)">Gazella subguttorosa</text>
<text x="0" y="0" font-size="32" font-style="italic" text-anchor="end" fill="#000" stroke="#000" stroke-width="0.5" transform="translate(1305.5 1450.3) rotate(-90) scale(0.866 1)">Naemorhedus goral</text>
<text x="0" y="0" font-size="32" font-style="italic" text-anchor="end" fill="#000" stroke="#000" stroke-width="0.5" transform="translate(1375.5 1448.7) rotate(-90) scale(0.866 1)">Ovis ammon</text>
<text x="0" y="0" font-size="32" font-style="italic" text-anchor="end" fill="#000" stroke="#000" stroke-width="0.5" transform="translate(1451.3 1446.3) rotate(-90) scale(0.866 1)">Procapra guttorosa</text>
<text x="0" y="0" font-size="32" font-style="italic" text-anchor="end" fill="#000" stroke="#000" stroke-width="0.5" transform="translate(1523.1 1445.5) rotate(-90) scale(0.866 1)">Pseudois nayaur</text>
<text x="0" y="0" font-size="32" font-style="italic" text-anchor="end" fill="#000" stroke="#000" stroke-width="0.5" transform="translate(1596.5 1446.3) rotate(-90) scale(0.866 1)">Capreolus pygargus</text>
<text x="0" y="0" font-size="52" font-weight="bold" fill="#E07F3E" stroke="#111" stroke-width="3" paint-order="stroke" stroke-linejoin="round" textLength="110" lengthAdjust="spacingAndGlyphs" transform="translate(1702.5 1414) rotate(-90)">early</text>
<text x="0" y="0" font-size="48" font-weight="bold" fill="#fff" stroke="#111" stroke-width="3" paint-order="stroke" stroke-linejoin="round" textLength="80" lengthAdjust="spacingAndGlyphs" transform="translate(1757 1390) rotate(-90)">late</text>
<text x="0" y="0" font-size="46" font-weight="bold" fill="#1F9AD6" stroke="#111" stroke-width="3" paint-order="stroke" stroke-linejoin="round" textLength="111" lengthAdjust="spacingAndGlyphs" transform="translate(1833.5 1418) rotate(-90)">early</text>
<text x="0" y="0" font-size="48" font-weight="bold" fill="#fff" stroke="#111" stroke-width="3" paint-order="stroke" stroke-linejoin="round" textLength="80" lengthAdjust="spacingAndGlyphs" transform="translate(1887 1387) rotate(-90)">late</text>
</svg>
</body></html>
